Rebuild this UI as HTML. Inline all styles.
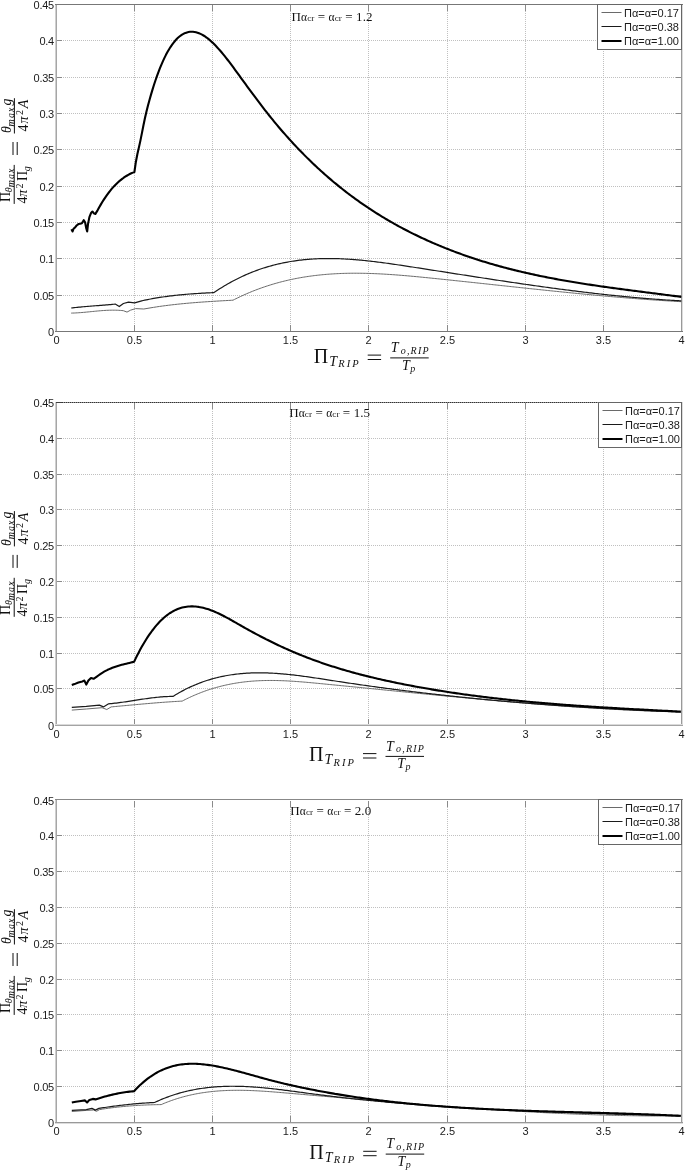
<!DOCTYPE html>
<html><head><meta charset="utf-8"><style>
html,body{margin:0;padding:0;background:#fff;width:685px;height:1170px;overflow:hidden}
svg{display:block;filter:blur(0.4px)}
.s{font-family:"Liberation Sans",sans-serif}
.r{font-family:"Liberation Serif",serif}
.i{font-family:"Liberation Serif",serif;font-style:italic}
</style></head><body>
<svg width="685" height="1170" viewBox="0 0 685 1170">
<rect width="685" height="1170" fill="#fff"/>

<g stroke="#c0c0c0" stroke-width="1" stroke-dasharray="1 1" fill="none"><line x1="134.5" y1="5" x2="134.5" y2="331" /><line x1="212.5" y1="5" x2="212.5" y2="331" /><line x1="290.5" y1="5" x2="290.5" y2="331" /><line x1="368.5" y1="5" x2="368.5" y2="331" /><line x1="447.5" y1="5" x2="447.5" y2="331" /><line x1="525.5" y1="5" x2="525.5" y2="331" /><line x1="603.5" y1="5" x2="603.5" y2="331" /><line x1="57" y1="295.5" x2="681" y2="295.5" /><line x1="57" y1="258.5" x2="681" y2="258.5" /><line x1="57" y1="222.5" x2="681" y2="222.5" /><line x1="57" y1="186.5" x2="681" y2="186.5" /><line x1="57" y1="149.5" x2="681" y2="149.5" /><line x1="57" y1="113.5" x2="681" y2="113.5" /><line x1="57" y1="77.5" x2="681" y2="77.5" /><line x1="57" y1="40.5" x2="681" y2="40.5" /></g>
<g stroke="#8a8a8a" stroke-width="1" fill="none"><line x1="134.5" y1="331" x2="134.5" y2="325" /><line x1="134.5" y1="5" x2="134.5" y2="11" /><line x1="212.5" y1="331" x2="212.5" y2="325" /><line x1="212.5" y1="5" x2="212.5" y2="11" /><line x1="290.5" y1="331" x2="290.5" y2="325" /><line x1="290.5" y1="5" x2="290.5" y2="11" /><line x1="368.5" y1="331" x2="368.5" y2="325" /><line x1="368.5" y1="5" x2="368.5" y2="11" /><line x1="447.5" y1="331" x2="447.5" y2="325" /><line x1="447.5" y1="5" x2="447.5" y2="11" /><line x1="525.5" y1="331" x2="525.5" y2="325" /><line x1="525.5" y1="5" x2="525.5" y2="11" /><line x1="603.5" y1="331" x2="603.5" y2="325" /><line x1="603.5" y1="5" x2="603.5" y2="11" /><line x1="57" y1="295.5" x2="62" y2="295.5" /><line x1="681" y1="295.5" x2="676" y2="295.5" /><line x1="57" y1="258.5" x2="62" y2="258.5" /><line x1="681" y1="258.5" x2="676" y2="258.5" /><line x1="57" y1="222.5" x2="62" y2="222.5" /><line x1="681" y1="222.5" x2="676" y2="222.5" /><line x1="57" y1="186.5" x2="62" y2="186.5" /><line x1="681" y1="186.5" x2="676" y2="186.5" /><line x1="57" y1="149.5" x2="62" y2="149.5" /><line x1="681" y1="149.5" x2="676" y2="149.5" /><line x1="57" y1="113.5" x2="62" y2="113.5" /><line x1="681" y1="113.5" x2="676" y2="113.5" /><line x1="57" y1="77.5" x2="62" y2="77.5" /><line x1="681" y1="77.5" x2="676" y2="77.5" /><line x1="57" y1="40.5" x2="62" y2="40.5" /><line x1="681" y1="40.5" x2="676" y2="40.5" /></g>
<rect x="55" y="4" width="1" height="328" fill="#cfcfcf"/>
<rect x="56" y="4" width="1" height="328" fill="#a6a6a6"/>
<rect x="681" y="4" width="1" height="328" fill="#999"/>
<rect x="682" y="4" width="1" height="328" fill="#dcdcdc"/>
<rect x="55" y="331" width="628" height="1" fill="#777"/>
<rect x="55" y="4" width="628" height="1" fill="#777"/>
<g class="s" font-size="11" fill="#1a1a1a"><text x="56.5" y="343.5" text-anchor="middle">0</text><text x="134.5" y="343.5" text-anchor="middle">0.5</text><text x="212.5" y="343.5" text-anchor="middle">1</text><text x="290.5" y="343.5" text-anchor="middle">1.5</text><text x="368.5" y="343.5" text-anchor="middle">2</text><text x="447.5" y="343.5" text-anchor="middle">2.5</text><text x="525.5" y="343.5" text-anchor="middle">3</text><text x="603.5" y="343.5" text-anchor="middle">3.5</text><text x="681.5" y="343.5" text-anchor="middle">4</text><text x="53.8" y="335.5" text-anchor="end" letter-spacing="-0.3">0</text><text x="53.8" y="299.5" text-anchor="end" letter-spacing="-0.3">0.05</text><text x="53.8" y="262.5" text-anchor="end" letter-spacing="-0.3">0.1</text><text x="53.8" y="226.5" text-anchor="end" letter-spacing="-0.3">0.15</text><text x="53.8" y="190.5" text-anchor="end" letter-spacing="-0.3">0.2</text><text x="53.8" y="153.5" text-anchor="end" letter-spacing="-0.3">0.25</text><text x="53.8" y="117.5" text-anchor="end" letter-spacing="-0.3">0.3</text><text x="53.8" y="81.5" text-anchor="end" letter-spacing="-0.3">0.35</text><text x="53.8" y="44.5" text-anchor="end" letter-spacing="-0.3">0.4</text><text x="53.8" y="8.5" text-anchor="end" letter-spacing="-0.3">0.45</text></g>
<path d="M71.20,313.10 L72.74,313.06 L74.27,313.00 L75.81,312.93 L77.34,312.84 L78.88,312.74 L80.41,312.63 L81.95,312.51 L83.48,312.38 L85.02,312.24 L86.55,312.09 L88.09,311.94 L89.62,311.79 L91.16,311.64 L92.69,311.48 L94.23,311.33 L95.76,311.18 L97.30,311.03 L98.84,310.90 L100.37,310.76 L101.91,310.64 L103.44,310.53 L104.98,310.43 L106.51,310.34 L108.05,310.27 L109.58,310.21 L111.12,310.18 L112.65,310.16 L114.19,310.16 L115.72,310.19 L117.26,310.23 L118.79,310.31 L120.33,310.41 L121.86,310.54 L123.40,310.70 L127.00,312.10 L130.50,310.20 L135.60,308.60 L143.80,309.00 L152.00,307.60 L153.50,307.36 L155.00,307.13 L156.50,306.90 L158.00,306.67 L159.50,306.45 L161.00,306.24 L162.50,306.03 L164.00,305.83 L165.50,305.63 L167.00,305.44 L168.50,305.25 L170.00,305.07 L171.50,304.89 L173.00,304.72 L174.50,304.55 L176.00,304.38 L177.50,304.22 L179.00,304.06 L180.50,303.91 L182.00,303.76 L183.50,303.61 L185.00,303.47 L186.50,303.33 L188.00,303.20 L189.50,303.06 L191.00,302.94 L192.50,302.81 L194.00,302.69 L195.50,302.57 L197.00,302.45 L198.50,302.34 L200.00,302.22 L201.50,302.11 L203.00,302.01 L204.50,301.90 L206.00,301.80 L207.50,301.70 L209.00,301.60 L210.50,301.50 L212.00,301.41 L213.50,301.31 L215.00,301.22 L216.50,301.13 L218.00,301.04 L219.50,300.95 L221.00,300.87 L222.50,300.78 L224.00,300.70 L225.50,300.61 L227.00,300.53 L228.50,300.45 L230.00,300.36 L231.50,300.28 L233.00,300.20 L234.50,299.43 L236.01,298.68 L237.51,297.94 L239.02,297.22 L240.52,296.51 L242.03,295.81 L243.53,295.12 L245.03,294.45 L246.54,293.79 L248.04,293.14 L249.55,292.51 L251.05,291.89 L252.56,291.28 L254.06,290.68 L255.57,290.09 L257.07,289.52 L258.57,288.96 L260.08,288.41 L261.58,287.87 L263.09,287.34 L264.59,286.83 L266.10,286.32 L267.60,285.83 L269.10,285.35 L270.61,284.88 L272.11,284.42 L273.62,283.97 L275.12,283.53 L276.63,283.11 L278.13,282.69 L279.64,282.29 L281.14,281.89 L282.64,281.50 L284.15,281.13 L285.65,280.76 L287.16,280.41 L288.66,280.06 L290.17,279.73 L291.67,279.40 L293.17,279.09 L294.68,278.78 L296.18,278.49 L297.69,278.20 L299.19,277.92 L300.70,277.65 L302.20,277.39 L303.71,277.14 L305.21,276.90 L306.71,276.66 L308.22,276.44 L309.72,276.22 L311.23,276.02 L312.73,275.82 L314.24,275.62 L315.74,275.44 L317.24,275.27 L318.75,275.10 L320.25,274.94 L321.76,274.79 L323.26,274.65 L324.77,274.51 L326.27,274.38 L327.77,274.26 L329.28,274.15 L330.78,274.04 L332.29,273.94 L333.79,273.85 L335.30,273.76 L336.80,273.68 L338.31,273.61 L339.81,273.54 L341.31,273.48 L342.82,273.43 L344.32,273.39 L345.83,273.35 L347.33,273.31 L348.84,273.28 L350.34,273.26 L351.84,273.24 L353.35,273.23 L354.85,273.23 L356.36,273.23 L357.86,273.24 L359.37,273.25 L360.87,273.26 L362.38,273.29 L363.88,273.31 L365.38,273.34 L366.89,273.38 L368.39,273.42 L369.90,273.47 L371.40,273.52 L372.91,273.57 L374.41,273.63 L375.91,273.70 L377.42,273.76 L378.92,273.84 L380.43,273.91 L381.93,273.99 L383.44,274.07 L384.94,274.16 L386.44,274.25 L387.95,274.35 L389.45,274.44 L390.96,274.55 L392.46,274.65 L393.97,274.76 L395.47,274.87 L396.98,274.98 L398.48,275.10 L399.98,275.21 L401.49,275.34 L402.99,275.46 L404.50,275.59 L406.00,275.71 L407.51,275.84 L409.01,275.98 L410.51,276.11 L412.02,276.25 L413.52,276.39 L415.03,276.53 L416.53,276.67 L418.04,276.81 L419.54,276.96 L421.05,277.10 L422.55,277.25 L424.05,277.40 L425.56,277.55 L427.06,277.70 L428.57,277.85 L430.07,278.00 L431.58,278.16 L433.08,278.31 L434.58,278.46 L436.09,278.62 L437.59,278.77 L439.10,278.93 L440.60,279.08 L442.11,279.24 L443.61,279.40 L445.12,279.55 L446.62,279.71 L448.12,279.87 L449.63,280.02 L451.13,280.18 L452.64,280.34 L454.14,280.50 L455.65,280.66 L457.15,280.82 L458.65,280.98 L460.16,281.14 L461.66,281.30 L463.17,281.46 L464.67,281.62 L466.18,281.78 L467.68,281.94 L469.18,282.10 L470.69,282.26 L472.19,282.42 L473.70,282.58 L475.20,282.74 L476.71,282.90 L478.21,283.07 L479.72,283.23 L481.22,283.39 L482.72,283.55 L484.23,283.71 L485.73,283.87 L487.24,284.04 L488.74,284.20 L490.25,284.36 L491.75,284.52 L493.25,284.69 L494.76,284.85 L496.26,285.01 L497.77,285.17 L499.27,285.34 L500.78,285.50 L502.28,285.66 L503.79,285.82 L505.29,285.98 L506.79,286.15 L508.30,286.31 L509.80,286.47 L511.31,286.63 L512.81,286.79 L514.32,286.95 L515.82,287.12 L517.32,287.28 L518.83,287.44 L520.33,287.60 L521.84,287.76 L523.34,287.92 L524.85,288.08 L526.35,288.24 L527.86,288.40 L529.36,288.56 L530.86,288.72 L532.37,288.88 L533.87,289.04 L535.38,289.20 L536.88,289.35 L538.39,289.51 L539.89,289.67 L541.39,289.83 L542.90,289.98 L544.40,290.14 L545.91,290.30 L547.41,290.45 L548.92,290.61 L550.42,290.77 L551.92,290.92 L553.43,291.07 L554.93,291.23 L556.44,291.38 L557.94,291.54 L559.45,291.69 L560.95,291.84 L562.46,291.99 L563.96,292.14 L565.46,292.30 L566.97,292.45 L568.47,292.60 L569.98,292.75 L571.48,292.90 L572.99,293.04 L574.49,293.19 L575.99,293.34 L577.50,293.49 L579.00,293.63 L580.51,293.78 L582.01,293.92 L583.52,294.07 L585.02,294.21 L586.53,294.36 L588.03,294.50 L589.53,294.64 L591.04,294.78 L592.54,294.92 L594.05,295.06 L595.55,295.20 L597.06,295.34 L598.56,295.48 L600.06,295.62 L601.57,295.75 L603.07,295.89 L604.58,296.02 L606.08,296.16 L607.59,296.29 L609.09,296.42 L610.59,296.56 L612.10,296.69 L613.60,296.82 L615.11,296.95 L616.61,297.08 L618.12,297.20 L619.62,297.33 L621.13,297.46 L622.63,297.58 L624.13,297.71 L625.64,297.83 L627.14,297.95 L628.65,298.07 L630.15,298.20 L631.66,298.32 L633.16,298.43 L634.66,298.55 L636.17,298.67 L637.67,298.79 L639.18,298.90 L640.68,299.02 L642.19,299.13 L643.69,299.24 L645.20,299.35 L646.70,299.46 L648.20,299.57 L649.71,299.68 L651.21,299.79 L652.72,299.89 L654.22,300.00 L655.73,300.10 L657.23,300.20 L658.73,300.30 L660.24,300.40 L661.74,300.50 L663.25,300.60 L664.75,300.70 L666.26,300.79 L667.76,300.89 L669.27,300.98 L670.77,301.07 L672.27,301.17 L673.78,301.25 L675.28,301.34 L676.79,301.43 L678.29,301.52 L679.80,301.60 L681.30,301.70" fill="none" stroke="#6a6a6a" stroke-width="1" stroke-linejoin="round"/>
<path d="M71.20,308.00 L72.72,307.83 L74.23,307.66 L75.75,307.50 L77.27,307.34 L78.79,307.19 L80.30,307.05 L81.82,306.90 L83.34,306.77 L84.86,306.63 L86.37,306.50 L87.89,306.38 L89.41,306.25 L90.92,306.13 L92.44,306.01 L93.96,305.89 L95.48,305.77 L96.99,305.65 L98.51,305.53 L100.03,305.41 L101.54,305.29 L103.06,305.17 L104.58,305.04 L106.10,304.92 L107.61,304.79 L109.13,304.66 L110.65,304.53 L112.17,304.39 L113.68,304.25 L115.20,304.10 L119.30,306.60 L123.40,303.50 L128.50,302.10 L134.60,302.90 L141.70,300.80 L143.21,300.47 L144.71,300.15 L146.22,299.85 L147.72,299.54 L149.23,299.25 L150.74,298.97 L152.24,298.69 L153.75,298.42 L155.26,298.17 L156.76,297.91 L158.27,297.67 L159.77,297.43 L161.28,297.20 L162.79,296.98 L164.29,296.76 L165.80,296.55 L167.31,296.35 L168.81,296.16 L170.32,295.97 L171.82,295.78 L173.33,295.61 L174.84,295.44 L176.34,295.27 L177.85,295.11 L179.36,294.96 L180.86,294.81 L182.37,294.67 L183.88,294.53 L185.38,294.39 L186.89,294.27 L188.39,294.14 L189.90,294.02 L191.41,293.91 L192.91,293.80 L194.42,293.69 L195.93,293.59 L197.43,293.49 L198.94,293.39 L200.44,293.30 L201.95,293.21 L203.46,293.13 L204.96,293.04 L206.47,292.96 L207.98,292.88 L209.48,292.81 L210.99,292.74 L212.49,292.67 L214.00,292.60 L215.50,291.56 L217.01,290.56 L218.51,289.57 L220.01,288.61 L221.51,287.67 L223.02,286.74 L224.52,285.83 L226.02,284.94 L227.52,284.06 L229.03,283.21 L230.53,282.37 L232.03,281.55 L233.53,280.74 L235.04,279.95 L236.54,279.18 L238.04,278.43 L239.54,277.69 L241.05,276.97 L242.55,276.27 L244.05,275.58 L245.55,274.91 L247.06,274.25 L248.56,273.61 L250.06,272.99 L251.56,272.38 L253.07,271.79 L254.57,271.21 L256.07,270.64 L257.57,270.10 L259.08,269.56 L260.58,269.04 L262.08,268.54 L263.58,268.05 L265.09,267.57 L266.59,267.11 L268.09,266.66 L269.60,266.23 L271.10,265.81 L272.60,265.40 L274.10,265.01 L275.61,264.63 L277.11,264.26 L278.61,263.90 L280.11,263.56 L281.62,263.23 L283.12,262.92 L284.62,262.61 L286.12,262.32 L287.63,262.04 L289.13,261.77 L290.63,261.52 L292.13,261.27 L293.64,261.04 L295.14,260.82 L296.64,260.61 L298.14,260.41 L299.65,260.22 L301.15,260.04 L302.65,259.88 L304.15,259.72 L305.66,259.58 L307.16,259.44 L308.66,259.32 L310.16,259.20 L311.67,259.10 L313.17,259.00 L314.67,258.91 L316.17,258.84 L317.68,258.77 L319.18,258.71 L320.68,258.66 L322.19,258.62 L323.69,258.59 L325.19,258.57 L326.69,258.55 L328.20,258.54 L329.70,258.55 L331.20,258.56 L332.70,258.57 L334.21,258.60 L335.71,258.63 L337.21,258.67 L338.71,258.72 L340.22,258.77 L341.72,258.83 L343.22,258.90 L344.72,258.98 L346.23,259.06 L347.73,259.15 L349.23,259.24 L350.73,259.34 L352.24,259.45 L353.74,259.56 L355.24,259.68 L356.74,259.80 L358.25,259.93 L359.75,260.07 L361.25,260.21 L362.75,260.35 L364.26,260.50 L365.76,260.66 L367.26,260.82 L368.76,260.98 L370.27,261.15 L371.77,261.32 L373.27,261.50 L374.78,261.68 L376.28,261.86 L377.78,262.05 L379.28,262.24 L380.79,262.43 L382.29,262.63 L383.79,262.83 L385.29,263.03 L386.80,263.24 L388.30,263.45 L389.80,263.66 L391.30,263.87 L392.81,264.09 L394.31,264.31 L395.81,264.52 L397.31,264.75 L398.82,264.97 L400.32,265.19 L401.82,265.42 L403.32,265.65 L404.83,265.88 L406.33,266.10 L407.83,266.33 L409.33,266.57 L410.84,266.80 L412.34,267.03 L413.84,267.26 L415.34,267.49 L416.85,267.72 L418.35,267.96 L419.85,268.19 L421.35,268.42 L422.86,268.65 L424.36,268.89 L425.86,269.12 L427.37,269.36 L428.87,269.59 L430.37,269.82 L431.87,270.06 L433.38,270.29 L434.88,270.52 L436.38,270.76 L437.88,270.99 L439.39,271.23 L440.89,271.46 L442.39,271.70 L443.89,271.93 L445.40,272.16 L446.90,272.40 L448.40,272.63 L449.90,272.87 L451.41,273.10 L452.91,273.34 L454.41,273.57 L455.91,273.80 L457.42,274.04 L458.92,274.27 L460.42,274.51 L461.92,274.74 L463.43,274.97 L464.93,275.21 L466.43,275.44 L467.93,275.67 L469.44,275.90 L470.94,276.14 L472.44,276.37 L473.95,276.60 L475.45,276.83 L476.95,277.06 L478.45,277.30 L479.96,277.53 L481.46,277.76 L482.96,277.99 L484.46,278.22 L485.97,278.45 L487.47,278.68 L488.97,278.91 L490.47,279.14 L491.98,279.36 L493.48,279.59 L494.98,279.82 L496.48,280.05 L497.99,280.27 L499.49,280.50 L500.99,280.72 L502.49,280.95 L504.00,281.17 L505.50,281.40 L507.00,281.62 L508.50,281.85 L510.01,282.07 L511.51,282.29 L513.01,282.51 L514.51,282.73 L516.02,282.95 L517.52,283.17 L519.02,283.39 L520.52,283.61 L522.03,283.83 L523.53,284.05 L525.03,284.27 L526.54,284.48 L528.04,284.70 L529.54,284.91 L531.04,285.13 L532.55,285.34 L534.05,285.55 L535.55,285.76 L537.05,285.97 L538.56,286.19 L540.06,286.39 L541.56,286.60 L543.06,286.81 L544.57,287.02 L546.07,287.23 L547.57,287.43 L549.07,287.64 L550.58,287.84 L552.08,288.04 L553.58,288.24 L555.08,288.45 L556.59,288.65 L558.09,288.85 L559.59,289.04 L561.09,289.24 L562.60,289.44 L564.10,289.63 L565.60,289.83 L567.10,290.02 L568.61,290.21 L570.11,290.41 L571.61,290.60 L573.11,290.79 L574.62,290.97 L576.12,291.16 L577.62,291.35 L579.13,291.53 L580.63,291.72 L582.13,291.90 L583.63,292.08 L585.14,292.26 L586.64,292.44 L588.14,292.62 L589.64,292.80 L591.15,292.97 L592.65,293.15 L594.15,293.32 L595.65,293.49 L597.16,293.67 L598.66,293.84 L600.16,294.00 L601.66,294.17 L603.17,294.34 L604.67,294.50 L606.17,294.67 L607.67,294.83 L609.18,294.99 L610.68,295.15 L612.18,295.31 L613.68,295.46 L615.19,295.62 L616.69,295.77 L618.19,295.92 L619.69,296.07 L621.20,296.22 L622.70,296.37 L624.20,296.52 L625.70,296.66 L627.21,296.81 L628.71,296.95 L630.21,297.09 L631.72,297.23 L633.22,297.37 L634.72,297.50 L636.22,297.64 L637.73,297.77 L639.23,297.90 L640.73,298.03 L642.23,298.16 L643.74,298.29 L645.24,298.41 L646.74,298.53 L648.24,298.65 L649.75,298.77 L651.25,298.89 L652.75,299.01 L654.25,299.12 L655.76,299.24 L657.26,299.35 L658.76,299.46 L660.26,299.57 L661.77,299.67 L663.27,299.78 L664.77,299.88 L666.27,299.98 L667.78,300.08 L669.28,300.17 L670.78,300.27 L672.28,300.36 L673.79,300.45 L675.29,300.54 L676.79,300.63 L678.29,300.72 L679.80,300.80 L681.30,300.90" fill="none" stroke="#1a1a1a" stroke-width="1.2" stroke-linejoin="round"/>
<path d="M71.40,229.30 L72.60,231.50 L73.70,228.50 L74.90,227.60 L76.60,225.50 L78.40,224.10 L80.10,223.70 L81.90,223.20 L83.70,220.20 L85.10,222.30 L86.30,228.50 L87.20,231.50 L88.00,224.10 L89.40,217.10 L91.20,212.70 L92.40,211.50 L94.20,213.60 L95.40,213.90 L97.70,210.10 L99.23,207.29 L100.76,204.61 L102.29,202.05 L103.82,199.61 L105.35,197.30 L106.88,195.10 L108.40,193.01 L109.93,191.04 L111.46,189.17 L112.99,187.41 L114.52,185.75 L116.05,184.18 L117.58,182.71 L119.11,181.34 L120.64,180.05 L122.17,178.85 L123.70,177.74 L125.23,176.70 L126.75,175.74 L128.28,174.86 L129.81,174.04 L131.34,173.30 L132.87,172.62 L134.40,172.00 L135.90,161.71 L137.40,154.02 L138.91,147.39 L140.41,140.61 L141.91,133.12 L143.41,125.47 L144.92,118.30 L146.42,111.77 L147.92,105.77 L149.42,100.19 L150.93,94.90 L152.43,89.86 L153.93,85.06 L155.43,80.50 L156.94,76.17 L158.44,72.07 L159.94,68.20 L161.44,64.55 L162.95,61.11 L164.45,57.89 L165.95,54.87 L167.45,52.07 L168.96,49.46 L170.46,47.05 L171.96,44.83 L173.46,42.80 L174.97,40.96 L176.47,39.30 L177.97,37.82 L179.47,36.51 L180.98,35.36 L182.48,34.39 L183.98,33.57 L185.48,32.91 L186.99,32.40 L188.49,32.03 L189.99,31.81 L191.49,31.73 L193.00,31.78 L194.50,31.96 L196.00,32.27 L197.50,32.69 L199.01,33.23 L200.51,33.89 L202.01,34.65 L203.51,35.51 L205.02,36.47 L206.52,37.53 L208.02,38.68 L209.52,39.91 L211.03,41.22 L212.53,42.61 L214.03,44.07 L215.53,45.60 L217.04,47.19 L218.54,48.84 L220.04,50.55 L221.54,52.30 L223.05,54.11 L224.55,55.95 L226.05,57.84 L227.55,59.76 L229.06,61.72 L230.56,63.70 L232.06,65.71 L233.56,67.73 L235.07,69.77 L236.57,71.83 L238.07,73.89 L239.57,75.96 L241.08,78.03 L242.58,80.09 L244.08,82.16 L245.58,84.22 L247.09,86.27 L248.59,88.32 L250.09,90.37 L251.59,92.41 L253.10,94.44 L254.60,96.46 L256.10,98.47 L257.60,100.47 L259.11,102.46 L260.61,104.44 L262.11,106.40 L263.61,108.35 L265.12,110.29 L266.62,112.21 L268.12,114.11 L269.62,116.00 L271.12,117.86 L272.63,119.71 L274.13,121.55 L275.63,123.37 L277.13,125.17 L278.64,126.95 L280.14,128.72 L281.64,130.47 L283.14,132.21 L284.65,133.93 L286.15,135.63 L287.65,137.32 L289.15,138.99 L290.66,140.65 L292.16,142.29 L293.66,143.92 L295.16,145.53 L296.67,147.12 L298.17,148.70 L299.67,150.27 L301.17,151.82 L302.68,153.36 L304.18,154.88 L305.68,156.38 L307.18,157.88 L308.69,159.36 L310.19,160.82 L311.69,162.27 L313.19,163.71 L314.70,165.13 L316.20,166.54 L317.70,167.94 L319.20,169.32 L320.71,170.69 L322.21,172.05 L323.71,173.39 L325.21,174.72 L326.72,176.04 L328.22,177.35 L329.72,178.64 L331.22,179.92 L332.73,181.19 L334.23,182.44 L335.73,183.68 L337.23,184.92 L338.74,186.14 L340.24,187.34 L341.74,188.54 L343.24,189.72 L344.75,190.90 L346.25,192.06 L347.75,193.21 L349.25,194.35 L350.76,195.48 L352.26,196.60 L353.76,197.70 L355.26,198.80 L356.77,199.88 L358.27,200.96 L359.77,202.02 L361.27,203.08 L362.78,204.12 L364.28,205.15 L365.78,206.18 L367.28,207.19 L368.79,208.19 L370.29,209.19 L371.79,210.17 L373.29,211.15 L374.80,212.11 L376.30,213.06 L377.80,214.01 L379.30,214.95 L380.81,215.87 L382.31,216.79 L383.81,217.70 L385.31,218.60 L386.82,219.49 L388.32,220.37 L389.82,221.24 L391.32,222.10 L392.83,222.96 L394.33,223.81 L395.83,224.64 L397.33,225.47 L398.84,226.30 L400.34,227.11 L401.84,227.91 L403.34,228.71 L404.85,229.50 L406.35,230.28 L407.85,231.05 L409.35,231.82 L410.85,232.58 L412.36,233.33 L413.86,234.07 L415.36,234.81 L416.86,235.54 L418.37,236.26 L419.87,236.97 L421.37,237.68 L422.87,238.38 L424.38,239.07 L425.88,239.76 L427.38,240.44 L428.88,241.12 L430.39,241.78 L431.89,242.44 L433.39,243.10 L434.89,243.74 L436.40,244.39 L437.90,245.02 L439.40,245.65 L440.90,246.27 L442.41,246.89 L443.91,247.50 L445.41,248.10 L446.91,248.70 L448.42,249.30 L449.92,249.88 L451.42,250.46 L452.92,251.04 L454.43,251.61 L455.93,252.17 L457.43,252.73 L458.93,253.28 L460.44,253.83 L461.94,254.37 L463.44,254.90 L464.94,255.43 L466.45,255.96 L467.95,256.48 L469.45,256.99 L470.95,257.50 L472.46,258.00 L473.96,258.50 L475.46,258.99 L476.96,259.48 L478.47,259.96 L479.97,260.44 L481.47,260.91 L482.97,261.38 L484.48,261.84 L485.98,262.30 L487.48,262.75 L488.98,263.20 L490.49,263.64 L491.99,264.08 L493.49,264.52 L494.99,264.94 L496.50,265.37 L498.00,265.79 L499.50,266.21 L501.00,266.62 L502.51,267.02 L504.01,267.43 L505.51,267.83 L507.01,268.22 L508.52,268.61 L510.02,269.00 L511.52,269.38 L513.02,269.75 L514.53,270.13 L516.03,270.50 L517.53,270.86 L519.03,271.23 L520.54,271.58 L522.04,271.94 L523.54,272.29 L525.04,272.63 L526.55,272.98 L528.05,273.32 L529.55,273.65 L531.05,273.99 L532.56,274.31 L534.06,274.64 L535.56,274.96 L537.06,275.28 L538.57,275.60 L540.07,275.91 L541.57,276.22 L543.07,276.52 L544.58,276.82 L546.08,277.12 L547.58,277.42 L549.08,277.71 L550.58,278.00 L552.09,278.29 L553.59,278.57 L555.09,278.86 L556.59,279.13 L558.10,279.41 L559.60,279.68 L561.10,279.96 L562.60,280.22 L564.11,280.49 L565.61,280.75 L567.11,281.01 L568.61,281.27 L570.12,281.53 L571.62,281.78 L573.12,282.03 L574.62,282.28 L576.13,282.53 L577.63,282.77 L579.13,283.01 L580.63,283.25 L582.14,283.49 L583.64,283.73 L585.14,283.96 L586.64,284.19 L588.15,284.42 L589.65,284.65 L591.15,284.88 L592.65,285.10 L594.16,285.33 L595.66,285.55 L597.16,285.77 L598.66,285.99 L600.17,286.20 L601.67,286.42 L603.17,286.63 L604.67,286.85 L606.18,287.06 L607.68,287.27 L609.18,287.48 L610.68,287.69 L612.19,287.89 L613.69,288.10 L615.19,288.30 L616.69,288.51 L618.20,288.71 L619.70,288.91 L621.20,289.11 L622.70,289.31 L624.21,289.51 L625.71,289.71 L627.21,289.90 L628.71,290.10 L630.22,290.30 L631.72,290.49 L633.22,290.69 L634.72,290.88 L636.23,291.08 L637.73,291.27 L639.23,291.46 L640.73,291.66 L642.24,291.85 L643.74,292.04 L645.24,292.23 L646.74,292.42 L648.25,292.62 L649.75,292.81 L651.25,293.00 L652.75,293.19 L654.26,293.38 L655.76,293.58 L657.26,293.77 L658.76,293.96 L660.27,294.15 L661.77,294.35 L663.27,294.54 L664.77,294.73 L666.28,294.93 L667.78,295.12 L669.28,295.32 L670.78,295.51 L672.29,295.71 L673.79,295.91 L675.29,296.10 L676.79,296.30 L678.30,296.50 L679.80,296.70 L681.30,296.90" fill="none" stroke="#000" stroke-width="2.1" stroke-linejoin="round"/>
<rect x="597.5" y="4.5" width="84" height="45" fill="#fff" stroke="#666" stroke-width="1"/>
<line x1="601.5" y1="12.5" x2="621.5" y2="12.5" stroke="#6a6a6a" stroke-width="1"/>
<text class="s" x="624" y="16.8" font-size="11" fill="#1a1a1a">Πα=α=0.17</text>
<line x1="601.5" y1="26.5" x2="621.5" y2="26.5" stroke="#1a1a1a" stroke-width="1"/>
<text class="s" x="624" y="30.8" font-size="11" fill="#1a1a1a">Πα=α=0.38</text>
<line x1="601.5" y1="41" x2="621.5" y2="41" stroke="#000" stroke-width="2"/>
<text class="s" x="624" y="45.3" font-size="11" fill="#1a1a1a">Πα=α=1.00</text>
<text class="r" x="291.6" y="20.9" font-size="13" letter-spacing="0.1" fill="#111">Π<tspan font-size="11.5">α</tspan><tspan font-size="9">cr</tspan> = <tspan font-size="11.5">α</tspan><tspan font-size="9">cr</tspan> = 1.2</text>
<g fill="#111" transform="translate(4.7,-398.5)"><text class="r" x="309" y="761.3" font-size="20">Π</text><text class="i" x="324.5" y="764.3" font-size="14">T</text><text class="i" x="333.5" y="765.8" font-size="10.5" letter-spacing="2.1">RIP</text><rect x="363" y="753.1" width="13.4" height="1"/><rect x="363" y="757.5" width="13.4" height="1"/><text class="i" x="386" y="750.8" font-size="14">T</text><text class="i" x="396" y="752.3" font-size="10" letter-spacing="1.2">o,RIP</text><rect x="385.5" y="755.9" width="38.5" height="1" /><text class="i" x="397.3" y="768.1" font-size="14">T</text><text class="i" x="405.5" y="770.2" font-size="10">p</text></g>
<g fill="#111" transform="translate(0,204.6) rotate(-90)"><text class="r" x="2.6" y="9.7" font-size="14">Π</text><text class="i" x="12.4" y="11.8" font-size="10">θ</text><text class="i" x="17.3" y="13.7" font-size="10" letter-spacing="1.1">max</text><rect x="0.7" y="13.7" width="39" height="1"/><text class="r" x="1" y="27.3" font-size="14">4</text><text class="i" x="7.8" y="27.3" font-size="14">π</text><text class="r" x="16" y="23.1" font-size="10">2</text><text class="r" x="23.6" y="27.3" font-size="14">Π</text><text class="i" x="33.4" y="29.5" font-size="10">g</text><rect x="49.6" y="12.5" width="13" height="1"/><rect x="49.6" y="16.7" width="13" height="1"/><text class="i" x="71.5" y="10.7" font-size="14">θ</text><text class="i" x="78.2" y="13.5" font-size="10" letter-spacing="1.1">max</text><text class="i" x="99" y="11" font-size="14">g</text><rect x="71.1" y="13.9" width="35.3" height="1"/><text class="r" x="73" y="27.7" font-size="14">4</text><text class="i" x="81" y="27.7" font-size="14">π</text><text class="r" x="89.5" y="23.1" font-size="10">2</text><text class="i" x="96.3" y="27.7" font-size="14">A</text></g>
<g stroke="#c0c0c0" stroke-width="1" stroke-dasharray="1 1" fill="none"><line x1="134.5" y1="403" x2="134.5" y2="725" /><line x1="212.5" y1="403" x2="212.5" y2="725" /><line x1="290.5" y1="403" x2="290.5" y2="725" /><line x1="368.5" y1="403" x2="368.5" y2="725" /><line x1="447.5" y1="403" x2="447.5" y2="725" /><line x1="525.5" y1="403" x2="525.5" y2="725" /><line x1="603.5" y1="403" x2="603.5" y2="725" /><line x1="57" y1="688.5" x2="681" y2="688.5" /><line x1="57" y1="653.5" x2="681" y2="653.5" /><line x1="57" y1="617.5" x2="681" y2="617.5" /><line x1="57" y1="581.5" x2="681" y2="581.5" /><line x1="57" y1="545.5" x2="681" y2="545.5" /><line x1="57" y1="509.5" x2="681" y2="509.5" /><line x1="57" y1="474.5" x2="681" y2="474.5" /><line x1="57" y1="438.5" x2="681" y2="438.5" /></g>
<g stroke="#8a8a8a" stroke-width="1" fill="none"><line x1="134.5" y1="725" x2="134.5" y2="719" /><line x1="134.5" y1="403" x2="134.5" y2="409" /><line x1="212.5" y1="725" x2="212.5" y2="719" /><line x1="212.5" y1="403" x2="212.5" y2="409" /><line x1="290.5" y1="725" x2="290.5" y2="719" /><line x1="290.5" y1="403" x2="290.5" y2="409" /><line x1="368.5" y1="725" x2="368.5" y2="719" /><line x1="368.5" y1="403" x2="368.5" y2="409" /><line x1="447.5" y1="725" x2="447.5" y2="719" /><line x1="447.5" y1="403" x2="447.5" y2="409" /><line x1="525.5" y1="725" x2="525.5" y2="719" /><line x1="525.5" y1="403" x2="525.5" y2="409" /><line x1="603.5" y1="725" x2="603.5" y2="719" /><line x1="603.5" y1="403" x2="603.5" y2="409" /><line x1="57" y1="688.5" x2="62" y2="688.5" /><line x1="681" y1="688.5" x2="676" y2="688.5" /><line x1="57" y1="653.5" x2="62" y2="653.5" /><line x1="681" y1="653.5" x2="676" y2="653.5" /><line x1="57" y1="617.5" x2="62" y2="617.5" /><line x1="681" y1="617.5" x2="676" y2="617.5" /><line x1="57" y1="581.5" x2="62" y2="581.5" /><line x1="681" y1="581.5" x2="676" y2="581.5" /><line x1="57" y1="545.5" x2="62" y2="545.5" /><line x1="681" y1="545.5" x2="676" y2="545.5" /><line x1="57" y1="509.5" x2="62" y2="509.5" /><line x1="681" y1="509.5" x2="676" y2="509.5" /><line x1="57" y1="474.5" x2="62" y2="474.5" /><line x1="681" y1="474.5" x2="676" y2="474.5" /><line x1="57" y1="438.5" x2="62" y2="438.5" /><line x1="681" y1="438.5" x2="676" y2="438.5" /></g>
<rect x="55" y="402" width="1" height="324" fill="#cfcfcf"/>
<rect x="56" y="402" width="1" height="324" fill="#a6a6a6"/>
<rect x="681" y="402" width="1" height="324" fill="#999"/>
<rect x="682" y="402" width="1" height="324" fill="#dcdcdc"/>
<rect x="55" y="724" width="628" height="1" fill="#dadada"/>
<rect x="55" y="725" width="628" height="1" fill="#a4a4a4"/>
<line x1="56" y1="402.5" x2="62" y2="402.5" stroke="#404040" stroke-width="1"/>
<line x1="62" y1="402.5" x2="682" y2="402.5" stroke="#909090" stroke-width="1"/>
<line x1="62" y1="402.5" x2="682" y2="402.5" stroke="#333" stroke-width="1" stroke-dasharray="1 1"/>
<g class="s" font-size="11" fill="#1a1a1a"><text x="56.5" y="737.5" text-anchor="middle">0</text><text x="134.5" y="737.5" text-anchor="middle">0.5</text><text x="212.5" y="737.5" text-anchor="middle">1</text><text x="290.5" y="737.5" text-anchor="middle">1.5</text><text x="368.5" y="737.5" text-anchor="middle">2</text><text x="447.5" y="737.5" text-anchor="middle">2.5</text><text x="525.5" y="737.5" text-anchor="middle">3</text><text x="603.5" y="737.5" text-anchor="middle">3.5</text><text x="681.5" y="737.5" text-anchor="middle">4</text><text x="53.8" y="729.5" text-anchor="end" letter-spacing="-0.3">0</text><text x="53.8" y="692.5" text-anchor="end" letter-spacing="-0.3">0.05</text><text x="53.8" y="657.5" text-anchor="end" letter-spacing="-0.3">0.1</text><text x="53.8" y="621.5" text-anchor="end" letter-spacing="-0.3">0.15</text><text x="53.8" y="585.5" text-anchor="end" letter-spacing="-0.3">0.2</text><text x="53.8" y="549.5" text-anchor="end" letter-spacing="-0.3">0.25</text><text x="53.8" y="513.5" text-anchor="end" letter-spacing="-0.3">0.3</text><text x="53.8" y="478.5" text-anchor="end" letter-spacing="-0.3">0.35</text><text x="53.8" y="442.5" text-anchor="end" letter-spacing="-0.3">0.4</text><text x="53.8" y="406.5" text-anchor="end" letter-spacing="-0.3">0.45</text></g>
<path d="M71.80,710.10 L86.30,709.00 L102.00,707.70 L106.80,709.50 L111.20,706.90 L112.71,706.76 L114.22,706.62 L115.73,706.48 L117.24,706.34 L118.75,706.20 L120.26,706.06 L121.77,705.92 L123.29,705.78 L124.80,705.64 L126.31,705.50 L127.82,705.36 L129.33,705.22 L130.84,705.08 L132.35,704.94 L133.86,704.80 L135.37,704.66 L136.88,704.52 L138.39,704.39 L139.90,704.25 L141.41,704.11 L142.92,703.98 L144.43,703.85 L145.94,703.72 L147.46,703.59 L148.97,703.46 L150.48,703.33 L151.99,703.20 L153.50,703.08 L155.01,702.95 L156.52,702.83 L158.03,702.71 L159.54,702.60 L161.05,702.48 L162.56,702.37 L164.07,702.25 L165.58,702.14 L167.09,702.04 L168.60,701.93 L170.11,701.83 L171.63,701.73 L173.14,701.63 L174.65,701.53 L176.16,701.44 L177.67,701.35 L179.18,701.27 L180.69,701.18 L182.20,701.10 L183.70,700.33 L185.20,699.56 L186.71,698.82 L188.21,698.09 L189.71,697.37 L191.21,696.68 L192.71,696.00 L194.21,695.34 L195.72,694.70 L197.22,694.07 L198.72,693.46 L200.22,692.86 L201.72,692.28 L203.23,691.72 L204.73,691.17 L206.23,690.64 L207.73,690.12 L209.23,689.62 L210.73,689.14 L212.24,688.67 L213.74,688.21 L215.24,687.77 L216.74,687.34 L218.24,686.93 L219.75,686.53 L221.25,686.15 L222.75,685.78 L224.25,685.43 L225.75,685.08 L227.25,684.76 L228.76,684.44 L230.26,684.14 L231.76,683.85 L233.26,683.58 L234.76,683.31 L236.27,683.06 L237.77,682.83 L239.27,682.60 L240.77,682.39 L242.27,682.19 L243.77,682.00 L245.28,681.82 L246.78,681.66 L248.28,681.50 L249.78,681.36 L251.28,681.23 L252.78,681.11 L254.29,681.00 L255.79,680.90 L257.29,680.82 L258.79,680.74 L260.29,680.67 L261.80,680.61 L263.30,680.57 L264.80,680.53 L266.30,680.50 L267.80,680.48 L269.30,680.47 L270.81,680.46 L272.31,680.47 L273.81,680.48 L275.31,680.50 L276.81,680.53 L278.32,680.57 L279.82,680.61 L281.32,680.66 L282.82,680.72 L284.32,680.78 L285.82,680.85 L287.33,680.93 L288.83,681.01 L290.33,681.09 L291.83,681.19 L293.33,681.28 L294.84,681.38 L296.34,681.49 L297.84,681.60 L299.34,681.71 L300.84,681.83 L302.34,681.95 L303.85,682.08 L305.35,682.20 L306.85,682.33 L308.35,682.47 L309.85,682.60 L311.36,682.74 L312.86,682.88 L314.36,683.02 L315.86,683.16 L317.36,683.31 L318.86,683.45 L320.37,683.60 L321.87,683.74 L323.37,683.89 L324.87,684.04 L326.37,684.18 L327.88,684.33 L329.38,684.48 L330.88,684.62 L332.38,684.77 L333.88,684.92 L335.38,685.07 L336.89,685.21 L338.39,685.36 L339.89,685.51 L341.39,685.66 L342.89,685.81 L344.40,685.96 L345.90,686.10 L347.40,686.25 L348.90,686.40 L350.40,686.55 L351.90,686.70 L353.41,686.85 L354.91,687.00 L356.41,687.15 L357.91,687.30 L359.41,687.45 L360.92,687.60 L362.42,687.75 L363.92,687.90 L365.42,688.05 L366.92,688.20 L368.42,688.35 L369.93,688.50 L371.43,688.65 L372.93,688.80 L374.43,688.95 L375.93,689.10 L377.43,689.25 L378.94,689.40 L380.44,689.55 L381.94,689.70 L383.44,689.85 L384.94,690.00 L386.45,690.15 L387.95,690.30 L389.45,690.45 L390.95,690.60 L392.45,690.75 L393.95,690.90 L395.46,691.05 L396.96,691.20 L398.46,691.35 L399.96,691.50 L401.46,691.65 L402.97,691.80 L404.47,691.95 L405.97,692.10 L407.47,692.25 L408.97,692.40 L410.47,692.55 L411.98,692.70 L413.48,692.85 L414.98,692.99 L416.48,693.14 L417.98,693.29 L419.49,693.44 L420.99,693.59 L422.49,693.74 L423.99,693.88 L425.49,694.03 L426.99,694.18 L428.50,694.33 L430.00,694.47 L431.50,694.62 L433.00,694.77 L434.50,694.91 L436.01,695.06 L437.51,695.21 L439.01,695.35 L440.51,695.50 L442.01,695.64 L443.51,695.79 L445.02,695.93 L446.52,696.08 L448.02,696.22 L449.52,696.37 L451.02,696.51 L452.53,696.66 L454.03,696.80 L455.53,696.94 L457.03,697.09 L458.53,697.23 L460.03,697.37 L461.54,697.51 L463.04,697.65 L464.54,697.80 L466.04,697.94 L467.54,698.08 L469.05,698.22 L470.55,698.36 L472.05,698.50 L473.55,698.64 L475.05,698.78 L476.55,698.92 L478.06,699.05 L479.56,699.19 L481.06,699.33 L482.56,699.47 L484.06,699.60 L485.57,699.74 L487.07,699.88 L488.57,700.01 L490.07,700.15 L491.57,700.28 L493.07,700.42 L494.58,700.55 L496.08,700.68 L497.58,700.82 L499.08,700.95 L500.58,701.08 L502.08,701.21 L503.59,701.34 L505.09,701.48 L506.59,701.61 L508.09,701.74 L509.59,701.86 L511.10,701.99 L512.60,702.12 L514.10,702.25 L515.60,702.38 L517.10,702.50 L518.60,702.63 L520.11,702.76 L521.61,702.88 L523.11,703.01 L524.61,703.13 L526.11,703.25 L527.62,703.38 L529.12,703.50 L530.62,703.62 L532.12,703.74 L533.62,703.86 L535.12,703.98 L536.63,704.10 L538.13,704.22 L539.63,704.34 L541.13,704.46 L542.63,704.58 L544.14,704.69 L545.64,704.81 L547.14,704.92 L548.64,705.04 L550.14,705.15 L551.64,705.27 L553.15,705.38 L554.65,705.49 L556.15,705.60 L557.65,705.71 L559.15,705.82 L560.66,705.93 L562.16,706.04 L563.66,706.15 L565.16,706.26 L566.66,706.37 L568.16,706.47 L569.67,706.58 L571.17,706.68 L572.67,706.78 L574.17,706.89 L575.67,706.99 L577.18,707.09 L578.68,707.19 L580.18,707.29 L581.68,707.39 L583.18,707.49 L584.68,707.59 L586.19,707.69 L587.69,707.78 L589.19,707.88 L590.69,707.97 L592.19,708.07 L593.70,708.16 L595.20,708.25 L596.70,708.34 L598.20,708.43 L599.70,708.52 L601.20,708.61 L602.71,708.70 L604.21,708.79 L605.71,708.88 L607.21,708.96 L608.71,709.05 L610.22,709.13 L611.72,709.21 L613.22,709.30 L614.72,709.38 L616.22,709.46 L617.72,709.54 L619.23,709.62 L620.73,709.69 L622.23,709.77 L623.73,709.85 L625.23,709.92 L626.73,710.00 L628.24,710.07 L629.74,710.14 L631.24,710.21 L632.74,710.28 L634.24,710.35 L635.75,710.42 L637.25,710.49 L638.75,710.55 L640.25,710.62 L641.75,710.68 L643.25,710.75 L644.76,710.81 L646.26,710.87 L647.76,710.93 L649.26,710.99 L650.76,711.05 L652.27,711.11 L653.77,711.16 L655.27,711.22 L656.77,711.27 L658.27,711.33 L659.77,711.38 L661.28,711.43 L662.78,711.48 L664.28,711.53 L665.78,711.58 L667.28,711.62 L668.79,711.67 L670.29,711.71 L671.79,711.76 L673.29,711.80 L674.79,711.84 L676.29,711.88 L677.80,711.92 L679.30,711.96 L680.80,712.00" fill="none" stroke="#6a6a6a" stroke-width="1" stroke-linejoin="round"/>
<path d="M71.80,707.40 L86.30,706.40 L99.40,705.10 L103.40,706.90 L108.60,703.80 L110.13,703.67 L111.67,703.53 L113.20,703.37 L114.73,703.20 L116.27,703.03 L117.80,702.84 L119.33,702.65 L120.87,702.44 L122.40,702.23 L123.93,702.02 L125.47,701.79 L127.00,701.57 L128.53,701.34 L130.07,701.10 L131.60,700.87 L133.13,700.63 L134.67,700.39 L136.20,700.15 L137.73,699.91 L139.27,699.68 L140.80,699.44 L142.33,699.21 L143.87,698.98 L145.40,698.76 L146.93,698.54 L148.47,698.33 L150.00,698.13 L151.53,697.93 L153.07,697.74 L154.60,697.56 L156.13,697.39 L157.67,697.23 L159.20,697.08 L160.73,696.95 L162.27,696.83 L163.80,696.72 L165.33,696.62 L166.87,696.54 L168.40,696.48 L169.93,696.44 L171.47,696.41 L173.00,696.40 L174.50,695.47 L176.00,694.56 L177.51,693.67 L179.01,692.81 L180.51,691.97 L182.01,691.15 L183.52,690.35 L185.02,689.57 L186.52,688.81 L188.02,688.08 L189.53,687.36 L191.03,686.67 L192.53,685.99 L194.03,685.34 L195.54,684.70 L197.04,684.09 L198.54,683.49 L200.04,682.91 L201.54,682.35 L203.05,681.81 L204.55,681.29 L206.05,680.78 L207.55,680.30 L209.06,679.83 L210.56,679.38 L212.06,678.94 L213.56,678.52 L215.07,678.12 L216.57,677.74 L218.07,677.37 L219.57,677.02 L221.08,676.69 L222.58,676.37 L224.08,676.06 L225.58,675.77 L227.09,675.50 L228.59,675.24 L230.09,674.99 L231.59,674.76 L233.09,674.55 L234.60,674.34 L236.10,674.15 L237.60,673.98 L239.10,673.82 L240.61,673.67 L242.11,673.53 L243.61,673.41 L245.11,673.30 L246.62,673.20 L248.12,673.11 L249.62,673.04 L251.12,672.97 L252.63,672.92 L254.13,672.88 L255.63,672.85 L257.13,672.83 L258.63,672.82 L260.14,672.82 L261.64,672.83 L263.14,672.85 L264.64,672.88 L266.15,672.92 L267.65,672.97 L269.15,673.03 L270.65,673.09 L272.16,673.17 L273.66,673.25 L275.16,673.34 L276.66,673.44 L278.17,673.54 L279.67,673.66 L281.17,673.78 L282.67,673.90 L284.18,674.04 L285.68,674.18 L287.18,674.33 L288.68,674.48 L290.18,674.64 L291.69,674.80 L293.19,674.97 L294.69,675.14 L296.19,675.32 L297.70,675.51 L299.20,675.70 L300.70,675.89 L302.20,676.09 L303.71,676.29 L305.21,676.49 L306.71,676.70 L308.21,676.91 L309.72,677.13 L311.22,677.34 L312.72,677.56 L314.22,677.79 L315.72,678.01 L317.23,678.23 L318.73,678.46 L320.23,678.69 L321.73,678.92 L323.24,679.15 L324.74,679.38 L326.24,679.62 L327.74,679.85 L329.25,680.08 L330.75,680.31 L332.25,680.55 L333.75,680.78 L335.26,681.01 L336.76,681.24 L338.26,681.47 L339.76,681.70 L341.27,681.92 L342.77,682.15 L344.27,682.38 L345.77,682.60 L347.27,682.82 L348.78,683.05 L350.28,683.27 L351.78,683.49 L353.28,683.71 L354.79,683.93 L356.29,684.14 L357.79,684.36 L359.29,684.58 L360.80,684.79 L362.30,685.01 L363.80,685.22 L365.30,685.43 L366.81,685.64 L368.31,685.85 L369.81,686.06 L371.31,686.27 L372.81,686.48 L374.32,686.68 L375.82,686.89 L377.32,687.09 L378.82,687.30 L380.33,687.50 L381.83,687.70 L383.33,687.90 L384.83,688.10 L386.34,688.30 L387.84,688.50 L389.34,688.70 L390.84,688.90 L392.35,689.09 L393.85,689.29 L395.35,689.48 L396.85,689.67 L398.36,689.87 L399.86,690.06 L401.36,690.25 L402.86,690.44 L404.36,690.63 L405.87,690.81 L407.37,691.00 L408.87,691.19 L410.37,691.37 L411.88,691.56 L413.38,691.74 L414.88,691.92 L416.38,692.10 L417.89,692.28 L419.39,692.46 L420.89,692.64 L422.39,692.82 L423.90,693.00 L425.40,693.17 L426.90,693.35 L428.40,693.52 L429.90,693.70 L431.41,693.87 L432.91,694.04 L434.41,694.21 L435.91,694.38 L437.42,694.55 L438.92,694.72 L440.42,694.89 L441.92,695.06 L443.43,695.22 L444.93,695.39 L446.43,695.55 L447.93,695.72 L449.44,695.88 L450.94,696.04 L452.44,696.20 L453.94,696.36 L455.44,696.52 L456.95,696.68 L458.45,696.84 L459.95,697.00 L461.45,697.15 L462.96,697.31 L464.46,697.46 L465.96,697.61 L467.46,697.77 L468.97,697.92 L470.47,698.07 L471.97,698.22 L473.47,698.37 L474.98,698.52 L476.48,698.67 L477.98,698.82 L479.48,698.96 L480.99,699.11 L482.49,699.25 L483.99,699.40 L485.49,699.54 L486.99,699.68 L488.50,699.82 L490.00,699.96 L491.50,700.10 L493.00,700.24 L494.51,700.38 L496.01,700.52 L497.51,700.66 L499.01,700.79 L500.52,700.93 L502.02,701.06 L503.52,701.20 L505.02,701.33 L506.53,701.46 L508.03,701.59 L509.53,701.72 L511.03,701.85 L512.53,701.98 L514.04,702.11 L515.54,702.24 L517.04,702.37 L518.54,702.49 L520.05,702.62 L521.55,702.74 L523.05,702.87 L524.55,702.99 L526.06,703.11 L527.56,703.23 L529.06,703.35 L530.56,703.47 L532.07,703.59 L533.57,703.71 L535.07,703.83 L536.57,703.95 L538.08,704.06 L539.58,704.18 L541.08,704.29 L542.58,704.41 L544.08,704.52 L545.59,704.63 L547.09,704.74 L548.59,704.86 L550.09,704.97 L551.60,705.08 L553.10,705.19 L554.60,705.29 L556.10,705.40 L557.61,705.51 L559.11,705.61 L560.61,705.72 L562.11,705.82 L563.62,705.93 L565.12,706.03 L566.62,706.14 L568.12,706.24 L569.62,706.34 L571.13,706.44 L572.63,706.54 L574.13,706.64 L575.63,706.74 L577.14,706.83 L578.64,706.93 L580.14,707.03 L581.64,707.12 L583.15,707.22 L584.65,707.31 L586.15,707.41 L587.65,707.50 L589.16,707.59 L590.66,707.68 L592.16,707.77 L593.66,707.86 L595.17,707.95 L596.67,708.04 L598.17,708.13 L599.67,708.22 L601.17,708.30 L602.68,708.39 L604.18,708.48 L605.68,708.56 L607.18,708.65 L608.69,708.73 L610.19,708.81 L611.69,708.89 L613.19,708.98 L614.70,709.06 L616.20,709.14 L617.70,709.22 L619.20,709.30 L620.71,709.37 L622.21,709.45 L623.71,709.53 L625.21,709.60 L626.71,709.68 L628.22,709.76 L629.72,709.83 L631.22,709.90 L632.72,709.98 L634.23,710.05 L635.73,710.12 L637.23,710.19 L638.73,710.26 L640.24,710.33 L641.74,710.40 L643.24,710.47 L644.74,710.54 L646.25,710.61 L647.75,710.67 L649.25,710.74 L650.75,710.81 L652.26,710.87 L653.76,710.94 L655.26,711.00 L656.76,711.06 L658.26,711.13 L659.77,711.19 L661.27,711.25 L662.77,711.31 L664.27,711.37 L665.78,711.43 L667.28,711.49 L668.78,711.55 L670.28,711.60 L671.79,711.66 L673.29,711.72 L674.79,711.77 L676.29,711.83 L677.80,711.89 L679.30,711.94 L680.80,712.00" fill="none" stroke="#1a1a1a" stroke-width="1.2" stroke-linejoin="round"/>
<path d="M71.80,685.10 L74.50,684.10 L78.40,682.50 L82.30,681.40 L84.40,680.60 L86.30,684.60 L88.40,680.60 L91.00,678.00 L93.60,678.80 L96.80,676.70 L98.35,675.49 L99.91,674.36 L101.46,673.31 L103.02,672.33 L104.57,671.43 L106.12,670.59 L107.68,669.82 L109.23,669.10 L110.79,668.43 L112.34,667.81 L113.90,667.24 L115.45,666.70 L117.00,666.20 L118.56,665.73 L120.11,665.28 L121.67,664.86 L123.22,664.45 L124.77,664.06 L126.33,663.67 L127.88,663.29 L129.44,662.90 L130.99,662.51 L132.55,662.11 L134.10,661.70 L135.60,658.59 L137.10,655.57 L138.61,652.65 L140.11,649.83 L141.61,647.11 L143.11,644.49 L144.61,641.96 L146.12,639.53 L147.62,637.19 L149.12,634.95 L150.62,632.81 L152.12,630.75 L153.62,628.79 L155.13,626.92 L156.63,625.14 L158.13,623.44 L159.63,621.84 L161.13,620.32 L162.64,618.89 L164.14,617.54 L165.64,616.28 L167.14,615.10 L168.64,614.00 L170.15,612.99 L171.65,612.05 L173.15,611.20 L174.65,610.42 L176.15,609.71 L177.66,609.08 L179.16,608.51 L180.66,608.02 L182.16,607.60 L183.66,607.24 L185.17,606.94 L186.67,606.71 L188.17,606.54 L189.67,606.43 L191.17,606.37 L192.67,606.38 L194.18,606.43 L195.68,606.54 L197.18,606.70 L198.68,606.91 L200.18,607.17 L201.69,607.47 L203.19,607.82 L204.69,608.21 L206.19,608.64 L207.69,609.10 L209.20,609.61 L210.70,610.15 L212.20,610.72 L213.70,611.33 L215.20,611.96 L216.71,612.62 L218.21,613.31 L219.71,614.02 L221.21,614.76 L222.71,615.51 L224.22,616.29 L225.72,617.08 L227.22,617.88 L228.72,618.70 L230.22,619.53 L231.72,620.37 L233.23,621.22 L234.73,622.08 L236.23,622.93 L237.73,623.80 L239.23,624.66 L240.74,625.52 L242.24,626.38 L243.74,627.23 L245.24,628.08 L246.74,628.92 L248.25,629.75 L249.75,630.58 L251.25,631.41 L252.75,632.22 L254.25,633.03 L255.76,633.84 L257.26,634.64 L258.76,635.43 L260.26,636.22 L261.76,637.00 L263.27,637.78 L264.77,638.54 L266.27,639.31 L267.77,640.06 L269.27,640.81 L270.77,641.56 L272.28,642.29 L273.78,643.02 L275.28,643.75 L276.78,644.46 L278.28,645.18 L279.79,645.88 L281.29,646.58 L282.79,647.27 L284.29,647.95 L285.79,648.63 L287.30,649.30 L288.80,649.97 L290.30,650.63 L291.80,651.28 L293.30,651.92 L294.81,652.56 L296.31,653.19 L297.81,653.81 L299.31,654.43 L300.81,655.04 L302.32,655.64 L303.82,656.24 L305.32,656.83 L306.82,657.41 L308.32,657.99 L309.82,658.56 L311.33,659.12 L312.83,659.68 L314.33,660.23 L315.83,660.78 L317.33,661.32 L318.84,661.85 L320.34,662.38 L321.84,662.90 L323.34,663.42 L324.84,663.93 L326.35,664.43 L327.85,664.93 L329.35,665.42 L330.85,665.91 L332.35,666.40 L333.86,666.87 L335.36,667.34 L336.86,667.81 L338.36,668.27 L339.86,668.73 L341.37,669.18 L342.87,669.63 L344.37,670.07 L345.87,670.50 L347.37,670.94 L348.88,671.36 L350.38,671.78 L351.88,672.20 L353.38,672.62 L354.88,673.02 L356.38,673.43 L357.89,673.83 L359.39,674.22 L360.89,674.61 L362.39,675.00 L363.89,675.39 L365.40,675.76 L366.90,676.14 L368.40,676.51 L369.90,676.88 L371.40,677.24 L372.91,677.60 L374.41,677.96 L375.91,678.31 L377.41,678.66 L378.91,679.00 L380.42,679.35 L381.92,679.69 L383.42,680.02 L384.92,680.35 L386.42,680.68 L387.92,681.01 L389.43,681.33 L390.93,681.65 L392.43,681.97 L393.93,682.29 L395.43,682.60 L396.94,682.91 L398.44,683.21 L399.94,683.52 L401.44,683.82 L402.94,684.12 L404.45,684.41 L405.95,684.71 L407.45,685.00 L408.95,685.29 L410.45,685.57 L411.96,685.86 L413.46,686.14 L414.96,686.42 L416.46,686.70 L417.96,686.97 L419.47,687.25 L420.97,687.52 L422.47,687.78 L423.97,688.05 L425.47,688.31 L426.97,688.58 L428.48,688.83 L429.98,689.09 L431.48,689.35 L432.98,689.60 L434.48,689.85 L435.99,690.10 L437.49,690.34 L438.99,690.59 L440.49,690.83 L441.99,691.07 L443.50,691.31 L445.00,691.54 L446.50,691.77 L448.00,692.01 L449.50,692.24 L451.01,692.46 L452.51,692.69 L454.01,692.91 L455.51,693.13 L457.01,693.35 L458.52,693.57 L460.02,693.78 L461.52,694.00 L463.02,694.21 L464.52,694.42 L466.02,694.63 L467.53,694.83 L469.03,695.04 L470.53,695.24 L472.03,695.44 L473.53,695.64 L475.04,695.83 L476.54,696.03 L478.04,696.22 L479.54,696.41 L481.04,696.60 L482.55,696.79 L484.05,696.98 L485.55,697.16 L487.05,697.34 L488.55,697.52 L490.06,697.70 L491.56,697.88 L493.06,698.06 L494.56,698.23 L496.06,698.40 L497.57,698.58 L499.07,698.75 L500.57,698.91 L502.07,699.08 L503.57,699.24 L505.07,699.41 L506.58,699.57 L508.08,699.73 L509.58,699.89 L511.08,700.05 L512.58,700.20 L514.09,700.36 L515.59,700.51 L517.09,700.66 L518.59,700.81 L520.09,700.96 L521.60,701.11 L523.10,701.25 L524.60,701.40 L526.10,701.54 L527.60,701.68 L529.11,701.82 L530.61,701.96 L532.11,702.10 L533.61,702.24 L535.11,702.37 L536.62,702.50 L538.12,702.64 L539.62,702.77 L541.12,702.90 L542.62,703.03 L544.12,703.16 L545.63,703.28 L547.13,703.41 L548.63,703.53 L550.13,703.66 L551.63,703.78 L553.14,703.90 L554.64,704.02 L556.14,704.14 L557.64,704.26 L559.14,704.37 L560.65,704.49 L562.15,704.61 L563.65,704.72 L565.15,704.83 L566.65,704.94 L568.16,705.05 L569.66,705.16 L571.16,705.27 L572.66,705.38 L574.16,705.49 L575.67,705.59 L577.17,705.70 L578.67,705.80 L580.17,705.91 L581.67,706.01 L583.17,706.11 L584.68,706.21 L586.18,706.31 L587.68,706.41 L589.18,706.51 L590.68,706.61 L592.19,706.71 L593.69,706.80 L595.19,706.90 L596.69,706.99 L598.19,707.09 L599.70,707.18 L601.20,707.28 L602.70,707.37 L604.20,707.46 L605.70,707.55 L607.21,707.64 L608.71,707.73 L610.21,707.82 L611.71,707.91 L613.21,708.00 L614.72,708.08 L616.22,708.17 L617.72,708.26 L619.22,708.34 L620.72,708.43 L622.22,708.51 L623.73,708.60 L625.23,708.68 L626.73,708.77 L628.23,708.85 L629.73,708.93 L631.24,709.01 L632.74,709.10 L634.24,709.18 L635.74,709.26 L637.24,709.34 L638.75,709.42 L640.25,709.50 L641.75,709.58 L643.25,709.66 L644.75,709.74 L646.26,709.82 L647.76,709.90 L649.26,709.98 L650.76,710.06 L652.26,710.13 L653.77,710.21 L655.27,710.29 L656.77,710.37 L658.27,710.45 L659.77,710.52 L661.27,710.60 L662.78,710.68 L664.28,710.75 L665.78,710.83 L667.28,710.91 L668.78,710.99 L670.29,711.06 L671.79,711.14 L673.29,711.22 L674.79,711.29 L676.29,711.37 L677.80,711.45 L679.30,711.52 L680.80,711.60" fill="none" stroke="#000" stroke-width="2.1" stroke-linejoin="round"/>
<rect x="598.5" y="402.5" width="83" height="45" fill="#fff" stroke="#666" stroke-width="1"/>
<line x1="602.5" y1="410.5" x2="622.5" y2="410.5" stroke="#6a6a6a" stroke-width="1"/>
<text class="s" x="625" y="414.8" font-size="11" fill="#1a1a1a">Πα=α=0.17</text>
<line x1="602.5" y1="424.5" x2="622.5" y2="424.5" stroke="#1a1a1a" stroke-width="1"/>
<text class="s" x="625" y="428.8" font-size="11" fill="#1a1a1a">Πα=α=0.38</text>
<line x1="602.5" y1="439" x2="622.5" y2="439" stroke="#000" stroke-width="2"/>
<text class="s" x="625" y="443.3" font-size="11" fill="#1a1a1a">Πα=α=1.00</text>
<text class="r" x="289.2" y="417.3" font-size="13" letter-spacing="0.1" fill="#111">Π<tspan font-size="11.5">α</tspan><tspan font-size="9">cr</tspan> = <tspan font-size="11.5">α</tspan><tspan font-size="9">cr</tspan> = 1.5</text>
<g fill="#111" transform="translate(0,0)"><text class="r" x="309" y="761.3" font-size="20">Π</text><text class="i" x="324.5" y="764.3" font-size="14">T</text><text class="i" x="333.5" y="765.8" font-size="10.5" letter-spacing="2.1">RIP</text><rect x="363" y="753.1" width="13.4" height="1"/><rect x="363" y="757.5" width="13.4" height="1"/><text class="i" x="386" y="750.8" font-size="14">T</text><text class="i" x="396" y="752.3" font-size="10" letter-spacing="1.2">o,RIP</text><rect x="385.5" y="755.9" width="38.5" height="1" /><text class="i" x="397.3" y="768.1" font-size="14">T</text><text class="i" x="405.5" y="770.2" font-size="10">p</text></g>
<g fill="#111" transform="translate(0,617.5) rotate(-90)"><text class="r" x="2.6" y="9.7" font-size="14">Π</text><text class="i" x="12.4" y="11.8" font-size="10">θ</text><text class="i" x="17.3" y="13.7" font-size="10" letter-spacing="1.1">max</text><rect x="0.7" y="13.7" width="39" height="1"/><text class="r" x="1" y="27.3" font-size="14">4</text><text class="i" x="7.8" y="27.3" font-size="14">π</text><text class="r" x="16" y="23.1" font-size="10">2</text><text class="r" x="23.6" y="27.3" font-size="14">Π</text><text class="i" x="33.4" y="29.5" font-size="10">g</text><rect x="49.6" y="12.5" width="13" height="1"/><rect x="49.6" y="16.7" width="13" height="1"/><text class="i" x="71.5" y="10.7" font-size="14">θ</text><text class="i" x="78.2" y="13.5" font-size="10" letter-spacing="1.1">max</text><text class="i" x="99" y="11" font-size="14">g</text><rect x="71.1" y="13.9" width="35.3" height="1"/><text class="r" x="73" y="27.7" font-size="14">4</text><text class="i" x="81" y="27.7" font-size="14">π</text><text class="r" x="89.5" y="23.1" font-size="10">2</text><text class="i" x="96.3" y="27.7" font-size="14">A</text></g>
<g stroke="#c0c0c0" stroke-width="1" stroke-dasharray="1 1" fill="none"><line x1="134.5" y1="801" x2="134.5" y2="1122" /><line x1="212.5" y1="801" x2="212.5" y2="1122" /><line x1="290.5" y1="801" x2="290.5" y2="1122" /><line x1="368.5" y1="801" x2="368.5" y2="1122" /><line x1="447.5" y1="801" x2="447.5" y2="1122" /><line x1="525.5" y1="801" x2="525.5" y2="1122" /><line x1="603.5" y1="801" x2="603.5" y2="1122" /><line x1="57" y1="1086.5" x2="681" y2="1086.5" /><line x1="57" y1="1050.5" x2="681" y2="1050.5" /><line x1="57" y1="1014.5" x2="681" y2="1014.5" /><line x1="57" y1="979.5" x2="681" y2="979.5" /><line x1="57" y1="943.5" x2="681" y2="943.5" /><line x1="57" y1="907.5" x2="681" y2="907.5" /><line x1="57" y1="871.5" x2="681" y2="871.5" /><line x1="57" y1="835.5" x2="681" y2="835.5" /></g>
<g stroke="#8a8a8a" stroke-width="1" fill="none"><line x1="134.5" y1="1122" x2="134.5" y2="1116" /><line x1="134.5" y1="801" x2="134.5" y2="807" /><line x1="212.5" y1="1122" x2="212.5" y2="1116" /><line x1="212.5" y1="801" x2="212.5" y2="807" /><line x1="290.5" y1="1122" x2="290.5" y2="1116" /><line x1="290.5" y1="801" x2="290.5" y2="807" /><line x1="368.5" y1="1122" x2="368.5" y2="1116" /><line x1="368.5" y1="801" x2="368.5" y2="807" /><line x1="447.5" y1="1122" x2="447.5" y2="1116" /><line x1="447.5" y1="801" x2="447.5" y2="807" /><line x1="525.5" y1="1122" x2="525.5" y2="1116" /><line x1="525.5" y1="801" x2="525.5" y2="807" /><line x1="603.5" y1="1122" x2="603.5" y2="1116" /><line x1="603.5" y1="801" x2="603.5" y2="807" /><line x1="57" y1="1086.5" x2="62" y2="1086.5" /><line x1="681" y1="1086.5" x2="676" y2="1086.5" /><line x1="57" y1="1050.5" x2="62" y2="1050.5" /><line x1="681" y1="1050.5" x2="676" y2="1050.5" /><line x1="57" y1="1014.5" x2="62" y2="1014.5" /><line x1="681" y1="1014.5" x2="676" y2="1014.5" /><line x1="57" y1="979.5" x2="62" y2="979.5" /><line x1="681" y1="979.5" x2="676" y2="979.5" /><line x1="57" y1="943.5" x2="62" y2="943.5" /><line x1="681" y1="943.5" x2="676" y2="943.5" /><line x1="57" y1="907.5" x2="62" y2="907.5" /><line x1="681" y1="907.5" x2="676" y2="907.5" /><line x1="57" y1="871.5" x2="62" y2="871.5" /><line x1="681" y1="871.5" x2="676" y2="871.5" /><line x1="57" y1="835.5" x2="62" y2="835.5" /><line x1="681" y1="835.5" x2="676" y2="835.5" /></g>
<rect x="55" y="800" width="1" height="323" fill="#cfcfcf"/>
<rect x="56" y="800" width="1" height="323" fill="#a6a6a6"/>
<rect x="681" y="800" width="1" height="323" fill="#999"/>
<rect x="682" y="800" width="1" height="323" fill="#dcdcdc"/>
<rect x="55" y="1122" width="628" height="1" fill="#999"/>
<rect x="55" y="1123" width="628" height="1" fill="#dcdcdc"/>
<rect x="55" y="799" width="628" height="1" fill="#888"/>
<g class="s" font-size="11" fill="#1a1a1a"><text x="56.5" y="1134.5" text-anchor="middle">0</text><text x="134.5" y="1134.5" text-anchor="middle">0.5</text><text x="212.5" y="1134.5" text-anchor="middle">1</text><text x="290.5" y="1134.5" text-anchor="middle">1.5</text><text x="368.5" y="1134.5" text-anchor="middle">2</text><text x="447.5" y="1134.5" text-anchor="middle">2.5</text><text x="525.5" y="1134.5" text-anchor="middle">3</text><text x="603.5" y="1134.5" text-anchor="middle">3.5</text><text x="681.5" y="1134.5" text-anchor="middle">4</text><text x="53.8" y="1126.5" text-anchor="end" letter-spacing="-0.3">0</text><text x="53.8" y="1090.5" text-anchor="end" letter-spacing="-0.3">0.05</text><text x="53.8" y="1054.5" text-anchor="end" letter-spacing="-0.3">0.1</text><text x="53.8" y="1018.5" text-anchor="end" letter-spacing="-0.3">0.15</text><text x="53.8" y="983.5" text-anchor="end" letter-spacing="-0.3">0.2</text><text x="53.8" y="947.5" text-anchor="end" letter-spacing="-0.3">0.25</text><text x="53.8" y="911.5" text-anchor="end" letter-spacing="-0.3">0.3</text><text x="53.8" y="875.5" text-anchor="end" letter-spacing="-0.3">0.35</text><text x="53.8" y="839.5" text-anchor="end" letter-spacing="-0.3">0.4</text><text x="53.8" y="804.5" text-anchor="end" letter-spacing="-0.3">0.45</text></g>
<path d="M71.80,1111.50 L86.30,1110.40 L93.50,1110.00 L96.50,1111.30 L99.50,1109.60 L101.00,1109.36 L102.51,1109.12 L104.01,1108.89 L105.52,1108.67 L107.02,1108.45 L108.53,1108.24 L110.03,1108.04 L111.54,1107.84 L113.04,1107.65 L114.55,1107.47 L116.05,1107.29 L117.56,1107.12 L119.06,1106.96 L120.57,1106.80 L122.07,1106.65 L123.58,1106.50 L125.08,1106.36 L126.59,1106.23 L128.09,1106.10 L129.60,1105.98 L131.10,1105.86 L132.61,1105.75 L134.11,1105.64 L135.62,1105.54 L137.12,1105.44 L138.63,1105.35 L140.13,1105.27 L141.64,1105.19 L143.14,1105.12 L144.65,1105.05 L146.15,1104.98 L147.66,1104.92 L149.16,1104.87 L150.67,1104.82 L152.17,1104.77 L153.68,1104.73 L155.18,1104.70 L156.69,1104.67 L158.19,1104.64 L159.70,1104.62 L161.20,1104.60 L162.70,1103.94 L164.20,1103.31 L165.71,1102.70 L167.21,1102.11 L168.71,1101.54 L170.21,1100.98 L171.71,1100.44 L173.21,1099.92 L174.72,1099.41 L176.22,1098.92 L177.72,1098.45 L179.22,1097.99 L180.72,1097.55 L182.22,1097.12 L183.73,1096.71 L185.23,1096.32 L186.73,1095.94 L188.23,1095.57 L189.73,1095.22 L191.23,1094.88 L192.74,1094.56 L194.24,1094.24 L195.74,1093.95 L197.24,1093.66 L198.74,1093.39 L200.25,1093.14 L201.75,1092.89 L203.25,1092.66 L204.75,1092.44 L206.25,1092.23 L207.75,1092.04 L209.26,1091.85 L210.76,1091.68 L212.26,1091.52 L213.76,1091.37 L215.26,1091.23 L216.76,1091.10 L218.27,1090.98 L219.77,1090.87 L221.27,1090.77 L222.77,1090.69 L224.27,1090.61 L225.77,1090.54 L227.28,1090.48 L228.78,1090.42 L230.28,1090.38 L231.78,1090.35 L233.28,1090.32 L234.78,1090.30 L236.29,1090.29 L237.79,1090.29 L239.29,1090.29 L240.79,1090.30 L242.29,1090.32 L243.80,1090.35 L245.30,1090.38 L246.80,1090.42 L248.30,1090.46 L249.80,1090.51 L251.30,1090.57 L252.81,1090.63 L254.31,1090.70 L255.81,1090.77 L257.31,1090.85 L258.81,1090.93 L260.31,1091.02 L261.82,1091.11 L263.32,1091.20 L264.82,1091.30 L266.32,1091.40 L267.82,1091.51 L269.32,1091.62 L270.83,1091.73 L272.33,1091.84 L273.83,1091.96 L275.33,1092.08 L276.83,1092.20 L278.34,1092.32 L279.84,1092.45 L281.34,1092.57 L282.84,1092.70 L284.34,1092.83 L285.84,1092.96 L287.35,1093.09 L288.85,1093.22 L290.35,1093.35 L291.85,1093.48 L293.35,1093.61 L294.85,1093.75 L296.36,1093.88 L297.86,1094.01 L299.36,1094.14 L300.86,1094.27 L302.36,1094.40 L303.86,1094.53 L305.37,1094.66 L306.87,1094.80 L308.37,1094.93 L309.87,1095.06 L311.37,1095.19 L312.88,1095.32 L314.38,1095.45 L315.88,1095.58 L317.38,1095.72 L318.88,1095.85 L320.38,1095.98 L321.89,1096.11 L323.39,1096.24 L324.89,1096.37 L326.39,1096.50 L327.89,1096.63 L329.39,1096.77 L330.90,1096.90 L332.40,1097.03 L333.90,1097.16 L335.40,1097.29 L336.90,1097.42 L338.40,1097.55 L339.91,1097.68 L341.41,1097.81 L342.91,1097.94 L344.41,1098.07 L345.91,1098.20 L347.42,1098.33 L348.92,1098.46 L350.42,1098.59 L351.92,1098.72 L353.42,1098.85 L354.92,1098.98 L356.43,1099.11 L357.93,1099.24 L359.43,1099.37 L360.93,1099.50 L362.43,1099.63 L363.93,1099.75 L365.44,1099.88 L366.94,1100.01 L368.44,1100.14 L369.94,1100.27 L371.44,1100.39 L372.94,1100.52 L374.45,1100.65 L375.95,1100.78 L377.45,1100.90 L378.95,1101.03 L380.45,1101.16 L381.95,1101.28 L383.46,1101.41 L384.96,1101.53 L386.46,1101.66 L387.96,1101.78 L389.46,1101.91 L390.97,1102.03 L392.47,1102.16 L393.97,1102.28 L395.47,1102.41 L396.97,1102.53 L398.47,1102.66 L399.98,1102.78 L401.48,1102.90 L402.98,1103.02 L404.48,1103.15 L405.98,1103.27 L407.48,1103.39 L408.99,1103.51 L410.49,1103.63 L411.99,1103.75 L413.49,1103.88 L414.99,1104.00 L416.49,1104.12 L418.00,1104.24 L419.50,1104.35 L421.00,1104.47 L422.50,1104.59 L424.00,1104.71 L425.51,1104.83 L427.01,1104.95 L428.51,1105.06 L430.01,1105.18 L431.51,1105.30 L433.01,1105.41 L434.52,1105.53 L436.02,1105.64 L437.52,1105.76 L439.02,1105.87 L440.52,1105.99 L442.02,1106.10 L443.53,1106.22 L445.03,1106.33 L446.53,1106.44 L448.03,1106.55 L449.53,1106.67 L451.03,1106.78 L452.54,1106.89 L454.04,1107.00 L455.54,1107.11 L457.04,1107.22 L458.54,1107.33 L460.05,1107.44 L461.55,1107.54 L463.05,1107.65 L464.55,1107.76 L466.05,1107.87 L467.55,1107.97 L469.06,1108.08 L470.56,1108.18 L472.06,1108.29 L473.56,1108.39 L475.06,1108.50 L476.56,1108.60 L478.07,1108.70 L479.57,1108.81 L481.07,1108.91 L482.57,1109.01 L484.07,1109.11 L485.57,1109.21 L487.08,1109.31 L488.58,1109.41 L490.08,1109.51 L491.58,1109.61 L493.08,1109.70 L494.58,1109.80 L496.09,1109.90 L497.59,1109.99 L499.09,1110.09 L500.59,1110.18 L502.09,1110.28 L503.60,1110.37 L505.10,1110.46 L506.60,1110.56 L508.10,1110.65 L509.60,1110.74 L511.10,1110.83 L512.61,1110.92 L514.11,1111.01 L515.61,1111.10 L517.11,1111.19 L518.61,1111.27 L520.11,1111.36 L521.62,1111.45 L523.12,1111.53 L524.62,1111.62 L526.12,1111.70 L527.62,1111.78 L529.12,1111.87 L530.63,1111.95 L532.13,1112.03 L533.63,1112.11 L535.13,1112.19 L536.63,1112.27 L538.14,1112.35 L539.64,1112.43 L541.14,1112.51 L542.64,1112.58 L544.14,1112.66 L545.64,1112.73 L547.15,1112.81 L548.65,1112.88 L550.15,1112.95 L551.65,1113.03 L553.15,1113.10 L554.65,1113.17 L556.16,1113.24 L557.66,1113.31 L559.16,1113.38 L560.66,1113.44 L562.16,1113.51 L563.66,1113.58 L565.17,1113.64 L566.67,1113.71 L568.17,1113.77 L569.67,1113.84 L571.17,1113.90 L572.68,1113.96 L574.18,1114.02 L575.68,1114.08 L577.18,1114.14 L578.68,1114.20 L580.18,1114.26 L581.69,1114.31 L583.19,1114.37 L584.69,1114.42 L586.19,1114.48 L587.69,1114.53 L589.19,1114.58 L590.70,1114.63 L592.20,1114.68 L593.70,1114.73 L595.20,1114.78 L596.70,1114.83 L598.20,1114.88 L599.71,1114.93 L601.21,1114.97 L602.71,1115.02 L604.21,1115.06 L605.71,1115.10 L607.22,1115.14 L608.72,1115.18 L610.22,1115.22 L611.72,1115.26 L613.22,1115.30 L614.72,1115.34 L616.23,1115.38 L617.73,1115.41 L619.23,1115.45 L620.73,1115.48 L622.23,1115.51 L623.73,1115.54 L625.24,1115.57 L626.74,1115.60 L628.24,1115.63 L629.74,1115.66 L631.24,1115.69 L632.74,1115.71 L634.25,1115.74 L635.75,1115.76 L637.25,1115.78 L638.75,1115.81 L640.25,1115.83 L641.75,1115.85 L643.26,1115.87 L644.76,1115.88 L646.26,1115.90 L647.76,1115.92 L649.26,1115.93 L650.77,1115.94 L652.27,1115.96 L653.77,1115.97 L655.27,1115.98 L656.77,1115.99 L658.27,1116.00 L659.78,1116.00 L661.28,1116.01 L662.78,1116.02 L664.28,1116.02 L665.78,1116.02 L667.28,1116.03 L668.79,1116.03 L670.29,1116.03 L671.79,1116.02 L673.29,1116.02 L674.79,1116.02 L676.29,1116.01 L677.80,1116.01 L679.30,1116.00 L680.80,1116.00" fill="none" stroke="#6a6a6a" stroke-width="1" stroke-linejoin="round"/>
<path d="M71.80,1110.40 L86.30,1109.60 L91.90,1108.40 L95.40,1110.10 L98.90,1108.40 L100.41,1108.16 L101.91,1107.93 L103.42,1107.70 L104.92,1107.47 L106.43,1107.25 L107.93,1107.03 L109.44,1106.82 L110.94,1106.60 L112.45,1106.40 L113.95,1106.19 L115.46,1106.00 L116.96,1105.80 L118.47,1105.61 L119.98,1105.43 L121.48,1105.25 L122.99,1105.07 L124.49,1104.90 L126.00,1104.73 L127.50,1104.57 L129.01,1104.41 L130.51,1104.26 L132.02,1104.11 L133.52,1103.96 L135.03,1103.82 L136.54,1103.69 L138.04,1103.56 L139.55,1103.44 L141.05,1103.32 L142.56,1103.21 L144.06,1103.10 L145.57,1103.00 L147.07,1102.90 L148.58,1102.81 L150.08,1102.72 L151.59,1102.64 L153.09,1102.57 L154.60,1102.50 L156.10,1101.78 L157.61,1101.09 L159.11,1100.43 L160.61,1099.78 L162.12,1099.16 L163.62,1098.55 L165.12,1097.95 L166.63,1097.38 L168.13,1096.82 L169.63,1096.28 L171.14,1095.75 L172.64,1095.25 L174.14,1094.75 L175.65,1094.28 L177.15,1093.82 L178.65,1093.37 L180.16,1092.94 L181.66,1092.53 L183.17,1092.13 L184.67,1091.75 L186.17,1091.38 L187.68,1091.03 L189.18,1090.69 L190.68,1090.36 L192.19,1090.05 L193.69,1089.75 L195.19,1089.47 L196.70,1089.20 L198.20,1088.94 L199.70,1088.70 L201.21,1088.47 L202.71,1088.25 L204.21,1088.04 L205.72,1087.85 L207.22,1087.67 L208.72,1087.50 L210.23,1087.34 L211.73,1087.19 L213.23,1087.06 L214.74,1086.94 L216.24,1086.82 L217.74,1086.72 L219.25,1086.63 L220.75,1086.55 L222.25,1086.48 L223.76,1086.42 L225.26,1086.37 L226.76,1086.33 L228.27,1086.30 L229.77,1086.27 L231.27,1086.26 L232.78,1086.26 L234.28,1086.26 L235.79,1086.28 L237.29,1086.30 L238.79,1086.33 L240.30,1086.36 L241.80,1086.41 L243.30,1086.46 L244.81,1086.52 L246.31,1086.59 L247.81,1086.67 L249.32,1086.75 L250.82,1086.84 L252.32,1086.93 L253.83,1087.03 L255.33,1087.14 L256.83,1087.25 L258.34,1087.37 L259.84,1087.50 L261.34,1087.63 L262.85,1087.76 L264.35,1087.90 L265.85,1088.05 L267.36,1088.20 L268.86,1088.35 L270.36,1088.51 L271.87,1088.67 L273.37,1088.83 L274.87,1089.00 L276.38,1089.18 L277.88,1089.35 L279.38,1089.53 L280.89,1089.71 L282.39,1089.90 L283.89,1090.09 L285.40,1090.28 L286.90,1090.47 L288.41,1090.66 L289.91,1090.86 L291.41,1091.05 L292.92,1091.25 L294.42,1091.45 L295.92,1091.65 L297.43,1091.85 L298.93,1092.05 L300.43,1092.26 L301.94,1092.46 L303.44,1092.66 L304.94,1092.86 L306.45,1093.07 L307.95,1093.27 L309.45,1093.47 L310.96,1093.67 L312.46,1093.87 L313.96,1094.06 L315.47,1094.26 L316.97,1094.46 L318.47,1094.65 L319.98,1094.84 L321.48,1095.03 L322.98,1095.22 L324.49,1095.41 L325.99,1095.60 L327.49,1095.78 L329.00,1095.97 L330.50,1096.15 L332.00,1096.33 L333.51,1096.51 L335.01,1096.69 L336.51,1096.87 L338.02,1097.04 L339.52,1097.22 L341.03,1097.39 L342.53,1097.56 L344.03,1097.74 L345.54,1097.91 L347.04,1098.07 L348.54,1098.24 L350.05,1098.41 L351.55,1098.57 L353.05,1098.74 L354.56,1098.90 L356.06,1099.06 L357.56,1099.22 L359.07,1099.38 L360.57,1099.54 L362.07,1099.69 L363.58,1099.85 L365.08,1100.00 L366.58,1100.15 L368.09,1100.31 L369.59,1100.46 L371.09,1100.61 L372.60,1100.75 L374.10,1100.90 L375.60,1101.05 L377.11,1101.19 L378.61,1101.34 L380.11,1101.48 L381.62,1101.62 L383.12,1101.76 L384.62,1101.90 L386.13,1102.04 L387.63,1102.17 L389.13,1102.31 L390.64,1102.44 L392.14,1102.58 L393.65,1102.71 L395.15,1102.84 L396.65,1102.97 L398.16,1103.10 L399.66,1103.23 L401.16,1103.36 L402.67,1103.49 L404.17,1103.61 L405.67,1103.74 L407.18,1103.86 L408.68,1103.98 L410.18,1104.10 L411.69,1104.22 L413.19,1104.34 L414.69,1104.46 L416.20,1104.58 L417.70,1104.70 L419.20,1104.81 L420.71,1104.93 L422.21,1105.04 L423.71,1105.15 L425.22,1105.26 L426.72,1105.38 L428.22,1105.49 L429.73,1105.59 L431.23,1105.70 L432.73,1105.81 L434.24,1105.92 L435.74,1106.02 L437.24,1106.13 L438.75,1106.23 L440.25,1106.33 L441.75,1106.43 L443.26,1106.54 L444.76,1106.64 L446.27,1106.74 L447.77,1106.83 L449.27,1106.93 L450.78,1107.03 L452.28,1107.13 L453.78,1107.22 L455.29,1107.32 L456.79,1107.41 L458.29,1107.50 L459.80,1107.59 L461.30,1107.69 L462.80,1107.78 L464.31,1107.87 L465.81,1107.95 L467.31,1108.04 L468.82,1108.13 L470.32,1108.22 L471.82,1108.30 L473.33,1108.39 L474.83,1108.47 L476.33,1108.56 L477.84,1108.64 L479.34,1108.72 L480.84,1108.80 L482.35,1108.88 L483.85,1108.97 L485.35,1109.04 L486.86,1109.12 L488.36,1109.20 L489.86,1109.28 L491.37,1109.36 L492.87,1109.43 L494.37,1109.51 L495.88,1109.58 L497.38,1109.66 L498.89,1109.73 L500.39,1109.80 L501.89,1109.88 L503.40,1109.95 L504.90,1110.02 L506.40,1110.09 L507.91,1110.16 L509.41,1110.23 L510.91,1110.30 L512.42,1110.37 L513.92,1110.44 L515.42,1110.50 L516.93,1110.57 L518.43,1110.64 L519.93,1110.70 L521.44,1110.77 L522.94,1110.83 L524.44,1110.90 L525.95,1110.96 L527.45,1111.02 L528.95,1111.08 L530.46,1111.15 L531.96,1111.21 L533.46,1111.27 L534.97,1111.33 L536.47,1111.39 L537.97,1111.45 L539.48,1111.51 L540.98,1111.57 L542.48,1111.63 L543.99,1111.68 L545.49,1111.74 L546.99,1111.80 L548.50,1111.85 L550.00,1111.91 L551.51,1111.97 L553.01,1112.02 L554.51,1112.08 L556.02,1112.13 L557.52,1112.18 L559.02,1112.24 L560.53,1112.29 L562.03,1112.34 L563.53,1112.40 L565.04,1112.45 L566.54,1112.50 L568.04,1112.55 L569.55,1112.60 L571.05,1112.66 L572.55,1112.71 L574.06,1112.76 L575.56,1112.81 L577.06,1112.86 L578.57,1112.90 L580.07,1112.95 L581.57,1113.00 L583.08,1113.05 L584.58,1113.10 L586.08,1113.15 L587.59,1113.20 L589.09,1113.24 L590.59,1113.29 L592.10,1113.34 L593.60,1113.38 L595.10,1113.43 L596.61,1113.48 L598.11,1113.52 L599.61,1113.57 L601.12,1113.61 L602.62,1113.66 L604.13,1113.70 L605.63,1113.75 L607.13,1113.79 L608.64,1113.84 L610.14,1113.88 L611.64,1113.93 L613.15,1113.97 L614.65,1114.02 L616.15,1114.06 L617.66,1114.10 L619.16,1114.15 L620.66,1114.19 L622.17,1114.23 L623.67,1114.28 L625.17,1114.32 L626.68,1114.36 L628.18,1114.41 L629.68,1114.45 L631.19,1114.49 L632.69,1114.53 L634.19,1114.58 L635.70,1114.62 L637.20,1114.66 L638.70,1114.71 L640.21,1114.75 L641.71,1114.79 L643.21,1114.83 L644.72,1114.87 L646.22,1114.92 L647.72,1114.96 L649.23,1115.00 L650.73,1115.04 L652.23,1115.09 L653.74,1115.13 L655.24,1115.17 L656.75,1115.21 L658.25,1115.26 L659.75,1115.30 L661.26,1115.34 L662.76,1115.38 L664.26,1115.43 L665.77,1115.47 L667.27,1115.51 L668.77,1115.55 L670.28,1115.60 L671.78,1115.64 L673.28,1115.68 L674.79,1115.73 L676.29,1115.77 L677.79,1115.81 L679.30,1115.86 L680.80,1115.90" fill="none" stroke="#1a1a1a" stroke-width="1.2" stroke-linejoin="round"/>
<path d="M71.80,1102.50 L75.80,1101.70 L81.00,1101.00 L85.00,1100.40 L87.10,1102.50 L89.40,1099.90 L92.80,1098.90 L95.50,1099.40 L97.04,1098.90 L98.59,1098.41 L100.13,1097.93 L101.68,1097.47 L103.22,1097.02 L104.76,1096.58 L106.31,1096.16 L107.85,1095.75 L109.40,1095.36 L110.94,1094.99 L112.48,1094.62 L114.03,1094.28 L115.57,1093.94 L117.12,1093.63 L118.66,1093.33 L120.20,1093.04 L121.75,1092.77 L123.29,1092.52 L124.84,1092.28 L126.38,1092.06 L127.92,1091.85 L129.47,1091.66 L131.01,1091.49 L132.56,1091.34 L134.10,1091.20 L135.60,1089.56 L137.10,1088.01 L138.61,1086.51 L140.11,1085.07 L141.61,1083.69 L143.11,1082.36 L144.61,1081.09 L146.12,1079.87 L147.62,1078.70 L149.12,1077.59 L150.62,1076.52 L152.12,1075.51 L153.62,1074.55 L155.13,1073.63 L156.63,1072.76 L158.13,1071.94 L159.63,1071.16 L161.13,1070.43 L162.64,1069.74 L164.14,1069.10 L165.64,1068.49 L167.14,1067.93 L168.64,1067.41 L170.15,1066.93 L171.65,1066.48 L173.15,1066.07 L174.65,1065.70 L176.15,1065.37 L177.66,1065.06 L179.16,1064.80 L180.66,1064.56 L182.16,1064.36 L183.66,1064.19 L185.17,1064.04 L186.67,1063.93 L188.17,1063.85 L189.67,1063.79 L191.17,1063.76 L192.67,1063.75 L194.18,1063.77 L195.68,1063.81 L197.18,1063.88 L198.68,1063.96 L200.18,1064.07 L201.69,1064.20 L203.19,1064.34 L204.69,1064.51 L206.19,1064.69 L207.69,1064.89 L209.20,1065.10 L210.70,1065.33 L212.20,1065.57 L213.70,1065.82 L215.20,1066.09 L216.71,1066.37 L218.21,1066.65 L219.71,1066.95 L221.21,1067.26 L222.71,1067.58 L224.22,1067.91 L225.72,1068.25 L227.22,1068.60 L228.72,1068.95 L230.22,1069.31 L231.72,1069.68 L233.23,1070.06 L234.73,1070.44 L236.23,1070.83 L237.73,1071.22 L239.23,1071.62 L240.74,1072.02 L242.24,1072.43 L243.74,1072.84 L245.24,1073.25 L246.74,1073.67 L248.25,1074.09 L249.75,1074.50 L251.25,1074.93 L252.75,1075.35 L254.25,1075.77 L255.76,1076.19 L257.26,1076.61 L258.76,1077.03 L260.26,1077.45 L261.76,1077.87 L263.27,1078.28 L264.77,1078.69 L266.27,1079.10 L267.77,1079.50 L269.27,1079.90 L270.77,1080.30 L272.28,1080.69 L273.78,1081.08 L275.28,1081.46 L276.78,1081.84 L278.28,1082.21 L279.79,1082.58 L281.29,1082.94 L282.79,1083.31 L284.29,1083.66 L285.79,1084.02 L287.30,1084.36 L288.80,1084.71 L290.30,1085.05 L291.80,1085.39 L293.30,1085.73 L294.81,1086.06 L296.31,1086.39 L297.81,1086.71 L299.31,1087.03 L300.81,1087.35 L302.32,1087.67 L303.82,1087.98 L305.32,1088.29 L306.82,1088.60 L308.32,1088.90 L309.82,1089.20 L311.33,1089.50 L312.83,1089.80 L314.33,1090.09 L315.83,1090.38 L317.33,1090.67 L318.84,1090.95 L320.34,1091.24 L321.84,1091.51 L323.34,1091.79 L324.84,1092.06 L326.35,1092.34 L327.85,1092.60 L329.35,1092.87 L330.85,1093.13 L332.35,1093.39 L333.86,1093.65 L335.36,1093.91 L336.86,1094.16 L338.36,1094.41 L339.86,1094.66 L341.37,1094.90 L342.87,1095.15 L344.37,1095.39 L345.87,1095.62 L347.37,1095.86 L348.88,1096.09 L350.38,1096.32 L351.88,1096.55 L353.38,1096.78 L354.88,1097.00 L356.38,1097.22 L357.89,1097.44 L359.39,1097.65 L360.89,1097.87 L362.39,1098.08 L363.89,1098.29 L365.40,1098.50 L366.90,1098.70 L368.40,1098.90 L369.90,1099.10 L371.40,1099.30 L372.91,1099.50 L374.41,1099.69 L375.91,1099.88 L377.41,1100.07 L378.91,1100.26 L380.42,1100.44 L381.92,1100.63 L383.42,1100.81 L384.92,1100.98 L386.42,1101.16 L387.92,1101.34 L389.43,1101.51 L390.93,1101.68 L392.43,1101.85 L393.93,1102.01 L395.43,1102.18 L396.94,1102.34 L398.44,1102.50 L399.94,1102.66 L401.44,1102.82 L402.94,1102.97 L404.45,1103.13 L405.95,1103.28 L407.45,1103.43 L408.95,1103.57 L410.45,1103.72 L411.96,1103.86 L413.46,1104.01 L414.96,1104.15 L416.46,1104.28 L417.96,1104.42 L419.47,1104.56 L420.97,1104.69 L422.47,1104.82 L423.97,1104.95 L425.47,1105.08 L426.97,1105.21 L428.48,1105.33 L429.98,1105.46 L431.48,1105.58 L432.98,1105.70 L434.48,1105.82 L435.99,1105.94 L437.49,1106.05 L438.99,1106.17 L440.49,1106.28 L441.99,1106.39 L443.50,1106.50 L445.00,1106.61 L446.50,1106.72 L448.00,1106.82 L449.50,1106.92 L451.01,1107.03 L452.51,1107.13 L454.01,1107.23 L455.51,1107.33 L457.01,1107.42 L458.52,1107.52 L460.02,1107.62 L461.52,1107.71 L463.02,1107.80 L464.52,1107.89 L466.02,1107.98 L467.53,1108.07 L469.03,1108.16 L470.53,1108.24 L472.03,1108.33 L473.53,1108.41 L475.04,1108.49 L476.54,1108.58 L478.04,1108.66 L479.54,1108.74 L481.04,1108.81 L482.55,1108.89 L484.05,1108.97 L485.55,1109.04 L487.05,1109.12 L488.55,1109.19 L490.06,1109.26 L491.56,1109.33 L493.06,1109.40 L494.56,1109.47 L496.06,1109.54 L497.57,1109.61 L499.07,1109.67 L500.57,1109.74 L502.07,1109.80 L503.57,1109.87 L505.07,1109.93 L506.58,1109.99 L508.08,1110.05 L509.58,1110.11 L511.08,1110.17 L512.58,1110.23 L514.09,1110.29 L515.59,1110.35 L517.09,1110.41 L518.59,1110.46 L520.09,1110.52 L521.60,1110.57 L523.10,1110.63 L524.60,1110.68 L526.10,1110.73 L527.60,1110.79 L529.11,1110.84 L530.61,1110.89 L532.11,1110.94 L533.61,1110.99 L535.11,1111.04 L536.62,1111.09 L538.12,1111.14 L539.62,1111.18 L541.12,1111.23 L542.62,1111.28 L544.12,1111.33 L545.63,1111.37 L547.13,1111.42 L548.63,1111.46 L550.13,1111.51 L551.63,1111.55 L553.14,1111.60 L554.64,1111.64 L556.14,1111.69 L557.64,1111.73 L559.14,1111.77 L560.65,1111.82 L562.15,1111.86 L563.65,1111.90 L565.15,1111.95 L566.65,1111.99 L568.16,1112.03 L569.66,1112.07 L571.16,1112.11 L572.66,1112.15 L574.16,1112.20 L575.67,1112.24 L577.17,1112.28 L578.67,1112.32 L580.17,1112.36 L581.67,1112.40 L583.17,1112.44 L584.68,1112.48 L586.18,1112.53 L587.68,1112.57 L589.18,1112.61 L590.68,1112.65 L592.19,1112.69 L593.69,1112.73 L595.19,1112.77 L596.69,1112.81 L598.19,1112.86 L599.70,1112.90 L601.20,1112.94 L602.70,1112.98 L604.20,1113.03 L605.70,1113.07 L607.21,1113.11 L608.71,1113.15 L610.21,1113.20 L611.71,1113.24 L613.21,1113.28 L614.72,1113.33 L616.22,1113.37 L617.72,1113.42 L619.22,1113.46 L620.72,1113.51 L622.22,1113.55 L623.73,1113.60 L625.23,1113.65 L626.73,1113.69 L628.23,1113.74 L629.73,1113.79 L631.24,1113.84 L632.74,1113.89 L634.24,1113.94 L635.74,1113.99 L637.24,1114.04 L638.75,1114.09 L640.25,1114.14 L641.75,1114.19 L643.25,1114.25 L644.75,1114.30 L646.26,1114.35 L647.76,1114.41 L649.26,1114.46 L650.76,1114.52 L652.26,1114.58 L653.77,1114.63 L655.27,1114.69 L656.77,1114.75 L658.27,1114.81 L659.77,1114.87 L661.27,1114.93 L662.78,1114.99 L664.28,1115.06 L665.78,1115.12 L667.28,1115.19 L668.78,1115.25 L670.29,1115.32 L671.79,1115.38 L673.29,1115.45 L674.79,1115.52 L676.29,1115.59 L677.80,1115.66 L679.30,1115.73 L680.80,1115.80" fill="none" stroke="#000" stroke-width="2.1" stroke-linejoin="round"/>
<rect x="598.5" y="799.5" width="83" height="45" fill="#fff" stroke="#666" stroke-width="1"/>
<line x1="602.5" y1="807.5" x2="622.5" y2="807.5" stroke="#6a6a6a" stroke-width="1"/>
<text class="s" x="625" y="811.8" font-size="11" fill="#1a1a1a">Πα=α=0.17</text>
<line x1="602.5" y1="821.5" x2="622.5" y2="821.5" stroke="#1a1a1a" stroke-width="1"/>
<text class="s" x="625" y="825.8" font-size="11" fill="#1a1a1a">Πα=α=0.38</text>
<line x1="602.5" y1="836" x2="622.5" y2="836" stroke="#000" stroke-width="2"/>
<text class="s" x="625" y="840.3" font-size="11" fill="#1a1a1a">Πα=α=1.00</text>
<text class="r" x="290.3" y="814.9" font-size="13" letter-spacing="0.1" fill="#111">Π<tspan font-size="11.5">α</tspan><tspan font-size="9">cr</tspan> = <tspan font-size="11.5">α</tspan><tspan font-size="9">cr</tspan> = 2.0</text>
<g fill="#111" transform="translate(0.2,397.7)"><text class="r" x="309" y="761.3" font-size="20">Π</text><text class="i" x="324.5" y="764.3" font-size="14">T</text><text class="i" x="333.5" y="765.8" font-size="10.5" letter-spacing="2.1">RIP</text><rect x="363" y="753.1" width="13.4" height="1"/><rect x="363" y="757.5" width="13.4" height="1"/><text class="i" x="386" y="750.8" font-size="14">T</text><text class="i" x="396" y="752.3" font-size="10" letter-spacing="1.2">o,RIP</text><rect x="385.5" y="755.9" width="38.5" height="1" /><text class="i" x="397.3" y="768.1" font-size="14">T</text><text class="i" x="405.5" y="770.2" font-size="10">p</text></g>
<g fill="#111" transform="translate(0,1015.6) rotate(-90)"><text class="r" x="2.6" y="9.7" font-size="14">Π</text><text class="i" x="12.4" y="11.8" font-size="10">θ</text><text class="i" x="17.3" y="13.7" font-size="10" letter-spacing="1.1">max</text><rect x="0.7" y="13.7" width="39" height="1"/><text class="r" x="1" y="27.3" font-size="14">4</text><text class="i" x="7.8" y="27.3" font-size="14">π</text><text class="r" x="16" y="23.1" font-size="10">2</text><text class="r" x="23.6" y="27.3" font-size="14">Π</text><text class="i" x="33.4" y="29.5" font-size="10">g</text><rect x="49.6" y="12.5" width="13" height="1"/><rect x="49.6" y="16.7" width="13" height="1"/><text class="i" x="71.5" y="10.7" font-size="14">θ</text><text class="i" x="78.2" y="13.5" font-size="10" letter-spacing="1.1">max</text><text class="i" x="99" y="11" font-size="14">g</text><rect x="71.1" y="13.9" width="35.3" height="1"/><text class="r" x="73" y="27.7" font-size="14">4</text><text class="i" x="81" y="27.7" font-size="14">π</text><text class="r" x="89.5" y="23.1" font-size="10">2</text><text class="i" x="96.3" y="27.7" font-size="14">A</text></g>
</svg></body></html>
